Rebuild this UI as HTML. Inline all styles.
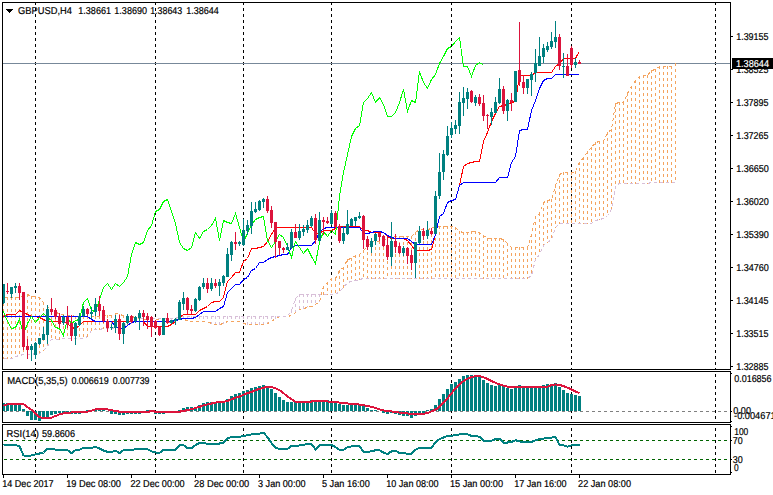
<!DOCTYPE html>
<html><head><meta charset="utf-8"><title>GBPUSD,H4</title>
<style>
html,body{margin:0;padding:0;background:#fff;}
body{width:773px;height:495px;overflow:hidden;}
svg{display:block;font-family:"Liberation Sans",sans-serif;font-size:10px;}
</style></head><body>
<svg width="773" height="495" viewBox="0 0 773 495" shape-rendering="crispEdges" text-rendering="geometricPrecision">
<rect x="0" y="0" width="773" height="495" fill="#fff"/>
<line x1="35.5" y1="2" x2="35.5" y2="474" stroke="#000" stroke-width="1" stroke-dasharray="3 3"/>
<line x1="155.5" y1="2" x2="155.5" y2="474" stroke="#000" stroke-width="1" stroke-dasharray="3 3"/>
<line x1="243.5" y1="2" x2="243.5" y2="474" stroke="#000" stroke-width="1" stroke-dasharray="3 3"/>
<line x1="331.5" y1="2" x2="331.5" y2="474" stroke="#000" stroke-width="1" stroke-dasharray="3 3"/>
<line x1="451.5" y1="2" x2="451.5" y2="474" stroke="#000" stroke-width="1" stroke-dasharray="3 3"/>
<line x1="571.5" y1="2" x2="571.5" y2="474" stroke="#000" stroke-width="1" stroke-dasharray="3 3"/>
<line x1="715.5" y1="2" x2="715.5" y2="474" stroke="#000" stroke-width="1" stroke-dasharray="3 3"/>
<rect x="3" y="370" width="727" height="1" fill="#fff"/>
<rect x="3" y="423" width="727" height="1" fill="#fff"/>
<rect x="3" y="63" width="727" height="1" fill="#778899"/>
<rect x="3" y="297" width="1" height="3" fill="#F4A460"/>
<rect x="3" y="303" width="1" height="3" fill="#F4A460"/>
<rect x="3" y="309" width="1" height="3" fill="#F4A460"/>
<rect x="3" y="315" width="1" height="3" fill="#F4A460"/>
<rect x="3" y="321" width="1" height="3" fill="#F4A460"/>
<rect x="3" y="327" width="1" height="3" fill="#F4A460"/>
<rect x="3" y="333" width="1" height="3" fill="#F4A460"/>
<rect x="3" y="339" width="1" height="3" fill="#F4A460"/>
<rect x="3" y="345" width="1" height="3" fill="#F4A460"/>
<rect x="3" y="351" width="1" height="3" fill="#F4A460"/>
<rect x="3" y="357" width="1" height="2" fill="#F4A460"/>
<rect x="7" y="297" width="1" height="3" fill="#F4A460"/>
<rect x="7" y="303" width="1" height="3" fill="#F4A460"/>
<rect x="7" y="309" width="1" height="3" fill="#F4A460"/>
<rect x="7" y="315" width="1" height="3" fill="#F4A460"/>
<rect x="7" y="321" width="1" height="3" fill="#F4A460"/>
<rect x="7" y="327" width="1" height="3" fill="#F4A460"/>
<rect x="7" y="333" width="1" height="3" fill="#F4A460"/>
<rect x="7" y="339" width="1" height="3" fill="#F4A460"/>
<rect x="7" y="345" width="1" height="3" fill="#F4A460"/>
<rect x="7" y="351" width="1" height="3" fill="#F4A460"/>
<rect x="7" y="357" width="1" height="2" fill="#F4A460"/>
<rect x="11" y="297" width="1" height="3" fill="#F4A460"/>
<rect x="11" y="303" width="1" height="3" fill="#F4A460"/>
<rect x="11" y="309" width="1" height="3" fill="#F4A460"/>
<rect x="11" y="315" width="1" height="3" fill="#F4A460"/>
<rect x="11" y="321" width="1" height="3" fill="#F4A460"/>
<rect x="11" y="327" width="1" height="3" fill="#F4A460"/>
<rect x="11" y="333" width="1" height="3" fill="#F4A460"/>
<rect x="11" y="339" width="1" height="3" fill="#F4A460"/>
<rect x="11" y="345" width="1" height="3" fill="#F4A460"/>
<rect x="11" y="351" width="1" height="3" fill="#F4A460"/>
<rect x="11" y="357" width="1" height="2" fill="#F4A460"/>
<rect x="15" y="297" width="1" height="3" fill="#F4A460"/>
<rect x="15" y="303" width="1" height="3" fill="#F4A460"/>
<rect x="15" y="309" width="1" height="3" fill="#F4A460"/>
<rect x="15" y="315" width="1" height="3" fill="#F4A460"/>
<rect x="15" y="321" width="1" height="3" fill="#F4A460"/>
<rect x="15" y="327" width="1" height="3" fill="#F4A460"/>
<rect x="15" y="333" width="1" height="3" fill="#F4A460"/>
<rect x="15" y="339" width="1" height="3" fill="#F4A460"/>
<rect x="15" y="345" width="1" height="3" fill="#F4A460"/>
<rect x="15" y="351" width="1" height="3" fill="#F4A460"/>
<rect x="19" y="297" width="1" height="3" fill="#F4A460"/>
<rect x="19" y="303" width="1" height="3" fill="#F4A460"/>
<rect x="19" y="309" width="1" height="3" fill="#F4A460"/>
<rect x="19" y="315" width="1" height="3" fill="#F4A460"/>
<rect x="19" y="321" width="1" height="3" fill="#F4A460"/>
<rect x="19" y="327" width="1" height="3" fill="#F4A460"/>
<rect x="19" y="333" width="1" height="3" fill="#F4A460"/>
<rect x="19" y="339" width="1" height="3" fill="#F4A460"/>
<rect x="19" y="345" width="1" height="3" fill="#F4A460"/>
<rect x="19" y="351" width="1" height="3" fill="#F4A460"/>
<rect x="23" y="295" width="1" height="3" fill="#F4A460"/>
<rect x="23" y="301" width="1" height="3" fill="#F4A460"/>
<rect x="23" y="307" width="1" height="3" fill="#F4A460"/>
<rect x="23" y="313" width="1" height="3" fill="#F4A460"/>
<rect x="23" y="319" width="1" height="3" fill="#F4A460"/>
<rect x="23" y="325" width="1" height="3" fill="#F4A460"/>
<rect x="23" y="331" width="1" height="3" fill="#F4A460"/>
<rect x="23" y="337" width="1" height="3" fill="#F4A460"/>
<rect x="23" y="343" width="1" height="3" fill="#F4A460"/>
<rect x="23" y="349" width="1" height="3" fill="#F4A460"/>
<rect x="27" y="294" width="1" height="3" fill="#F4A460"/>
<rect x="27" y="300" width="1" height="3" fill="#F4A460"/>
<rect x="27" y="306" width="1" height="3" fill="#F4A460"/>
<rect x="27" y="312" width="1" height="3" fill="#F4A460"/>
<rect x="27" y="318" width="1" height="3" fill="#F4A460"/>
<rect x="27" y="324" width="1" height="3" fill="#F4A460"/>
<rect x="27" y="330" width="1" height="3" fill="#F4A460"/>
<rect x="27" y="336" width="1" height="3" fill="#F4A460"/>
<rect x="27" y="342" width="1" height="3" fill="#F4A460"/>
<rect x="27" y="348" width="1" height="3" fill="#F4A460"/>
<rect x="27" y="354" width="1" height="1" fill="#F4A460"/>
<rect x="31" y="296" width="1" height="3" fill="#F4A460"/>
<rect x="31" y="302" width="1" height="3" fill="#F4A460"/>
<rect x="31" y="308" width="1" height="3" fill="#F4A460"/>
<rect x="31" y="314" width="1" height="3" fill="#F4A460"/>
<rect x="31" y="320" width="1" height="3" fill="#F4A460"/>
<rect x="31" y="326" width="1" height="3" fill="#F4A460"/>
<rect x="31" y="332" width="1" height="3" fill="#F4A460"/>
<rect x="31" y="338" width="1" height="3" fill="#F4A460"/>
<rect x="31" y="344" width="1" height="3" fill="#F4A460"/>
<rect x="31" y="350" width="1" height="3" fill="#F4A460"/>
<rect x="35" y="296" width="1" height="3" fill="#F4A460"/>
<rect x="35" y="302" width="1" height="3" fill="#F4A460"/>
<rect x="35" y="308" width="1" height="3" fill="#F4A460"/>
<rect x="35" y="314" width="1" height="3" fill="#F4A460"/>
<rect x="35" y="320" width="1" height="3" fill="#F4A460"/>
<rect x="35" y="326" width="1" height="3" fill="#F4A460"/>
<rect x="35" y="332" width="1" height="3" fill="#F4A460"/>
<rect x="35" y="338" width="1" height="3" fill="#F4A460"/>
<rect x="35" y="344" width="1" height="3" fill="#F4A460"/>
<rect x="35" y="350" width="1" height="3" fill="#F4A460"/>
<rect x="39" y="297" width="1" height="3" fill="#F4A460"/>
<rect x="39" y="303" width="1" height="3" fill="#F4A460"/>
<rect x="39" y="309" width="1" height="3" fill="#F4A460"/>
<rect x="39" y="315" width="1" height="3" fill="#F4A460"/>
<rect x="39" y="321" width="1" height="3" fill="#F4A460"/>
<rect x="39" y="327" width="1" height="3" fill="#F4A460"/>
<rect x="39" y="333" width="1" height="3" fill="#F4A460"/>
<rect x="39" y="339" width="1" height="3" fill="#F4A460"/>
<rect x="39" y="345" width="1" height="3" fill="#F4A460"/>
<rect x="39" y="351" width="1" height="3" fill="#F4A460"/>
<rect x="43" y="302" width="1" height="3" fill="#F4A460"/>
<rect x="43" y="308" width="1" height="3" fill="#F4A460"/>
<rect x="43" y="314" width="1" height="3" fill="#F4A460"/>
<rect x="43" y="320" width="1" height="3" fill="#F4A460"/>
<rect x="43" y="326" width="1" height="3" fill="#F4A460"/>
<rect x="43" y="332" width="1" height="3" fill="#F4A460"/>
<rect x="43" y="338" width="1" height="3" fill="#F4A460"/>
<rect x="43" y="344" width="1" height="3" fill="#F4A460"/>
<rect x="43" y="350" width="1" height="1" fill="#F4A460"/>
<rect x="47" y="306" width="1" height="3" fill="#F4A460"/>
<rect x="47" y="312" width="1" height="3" fill="#F4A460"/>
<rect x="47" y="318" width="1" height="3" fill="#F4A460"/>
<rect x="47" y="324" width="1" height="3" fill="#F4A460"/>
<rect x="47" y="330" width="1" height="3" fill="#F4A460"/>
<rect x="47" y="336" width="1" height="3" fill="#F4A460"/>
<rect x="47" y="342" width="1" height="3" fill="#F4A460"/>
<rect x="51" y="311" width="1" height="3" fill="#F4A460"/>
<rect x="51" y="317" width="1" height="3" fill="#F4A460"/>
<rect x="51" y="323" width="1" height="3" fill="#F4A460"/>
<rect x="51" y="329" width="1" height="3" fill="#F4A460"/>
<rect x="51" y="335" width="1" height="3" fill="#F4A460"/>
<rect x="55" y="312" width="1" height="3" fill="#F4A460"/>
<rect x="55" y="318" width="1" height="3" fill="#F4A460"/>
<rect x="55" y="324" width="1" height="3" fill="#F4A460"/>
<rect x="55" y="330" width="1" height="3" fill="#F4A460"/>
<rect x="55" y="336" width="1" height="3" fill="#F4A460"/>
<rect x="59" y="313" width="1" height="3" fill="#F4A460"/>
<rect x="59" y="319" width="1" height="3" fill="#F4A460"/>
<rect x="59" y="325" width="1" height="3" fill="#F4A460"/>
<rect x="59" y="331" width="1" height="3" fill="#F4A460"/>
<rect x="59" y="337" width="1" height="3" fill="#F4A460"/>
<rect x="63" y="314" width="1" height="3" fill="#F4A460"/>
<rect x="63" y="320" width="1" height="3" fill="#F4A460"/>
<rect x="63" y="326" width="1" height="3" fill="#F4A460"/>
<rect x="63" y="332" width="1" height="3" fill="#F4A460"/>
<rect x="63" y="338" width="1" height="1" fill="#F4A460"/>
<rect x="67" y="315" width="1" height="3" fill="#F4A460"/>
<rect x="67" y="321" width="1" height="3" fill="#F4A460"/>
<rect x="67" y="327" width="1" height="3" fill="#F4A460"/>
<rect x="67" y="333" width="1" height="3" fill="#F4A460"/>
<rect x="71" y="315" width="1" height="3" fill="#F4A460"/>
<rect x="71" y="321" width="1" height="3" fill="#F4A460"/>
<rect x="71" y="327" width="1" height="3" fill="#F4A460"/>
<rect x="71" y="333" width="1" height="3" fill="#F4A460"/>
<rect x="75" y="316" width="1" height="3" fill="#F4A460"/>
<rect x="75" y="322" width="1" height="3" fill="#F4A460"/>
<rect x="75" y="328" width="1" height="3" fill="#F4A460"/>
<rect x="75" y="334" width="1" height="3" fill="#F4A460"/>
<rect x="79" y="316" width="1" height="3" fill="#F4A460"/>
<rect x="79" y="322" width="1" height="3" fill="#F4A460"/>
<rect x="79" y="328" width="1" height="3" fill="#F4A460"/>
<rect x="79" y="334" width="1" height="3" fill="#F4A460"/>
<rect x="83" y="316" width="1" height="3" fill="#F4A460"/>
<rect x="83" y="322" width="1" height="3" fill="#F4A460"/>
<rect x="83" y="328" width="1" height="3" fill="#F4A460"/>
<rect x="83" y="334" width="1" height="3" fill="#F4A460"/>
<rect x="87" y="316" width="1" height="3" fill="#F4A460"/>
<rect x="87" y="322" width="1" height="3" fill="#F4A460"/>
<rect x="87" y="328" width="1" height="3" fill="#F4A460"/>
<rect x="87" y="334" width="1" height="3" fill="#F4A460"/>
<rect x="91" y="316" width="1" height="3" fill="#F4A460"/>
<rect x="91" y="322" width="1" height="3" fill="#F4A460"/>
<rect x="91" y="328" width="1" height="3" fill="#F4A460"/>
<rect x="95" y="316" width="1" height="3" fill="#F4A460"/>
<rect x="95" y="322" width="1" height="3" fill="#F4A460"/>
<rect x="95" y="328" width="1" height="2" fill="#F4A460"/>
<rect x="99" y="316" width="1" height="3" fill="#F4A460"/>
<rect x="99" y="322" width="1" height="3" fill="#F4A460"/>
<rect x="99" y="328" width="1" height="2" fill="#F4A460"/>
<rect x="103" y="315" width="1" height="3" fill="#F4A460"/>
<rect x="103" y="321" width="1" height="3" fill="#F4A460"/>
<rect x="103" y="327" width="1" height="2" fill="#F4A460"/>
<rect x="107" y="315" width="1" height="3" fill="#F4A460"/>
<rect x="107" y="321" width="1" height="3" fill="#F4A460"/>
<rect x="107" y="327" width="1" height="2" fill="#F4A460"/>
<rect x="111" y="315" width="1" height="3" fill="#F4A460"/>
<rect x="111" y="321" width="1" height="3" fill="#F4A460"/>
<rect x="111" y="327" width="1" height="2" fill="#F4A460"/>
<rect x="115" y="313" width="1" height="3" fill="#F4A460"/>
<rect x="115" y="319" width="1" height="3" fill="#F4A460"/>
<rect x="115" y="325" width="1" height="3" fill="#F4A460"/>
<rect x="119" y="314" width="1" height="3" fill="#F4A460"/>
<rect x="119" y="320" width="1" height="3" fill="#F4A460"/>
<rect x="119" y="326" width="1" height="1" fill="#F4A460"/>
<rect x="123" y="315" width="1" height="3" fill="#F4A460"/>
<rect x="123" y="321" width="1" height="3" fill="#F4A460"/>
<rect x="127" y="316" width="1" height="3" fill="#F4A460"/>
<rect x="127" y="322" width="1" height="3" fill="#F4A460"/>
<rect x="131" y="316" width="1" height="3" fill="#F4A460"/>
<rect x="131" y="322" width="1" height="2" fill="#F4A460"/>
<rect x="135" y="317" width="1" height="3" fill="#F4A460"/>
<rect x="167" y="318" width="1" height="3" fill="#D8BFD8"/>
<rect x="171" y="318" width="1" height="3" fill="#D8BFD8"/>
<rect x="175" y="318" width="1" height="3" fill="#D8BFD8"/>
<rect x="179" y="316" width="1" height="3" fill="#D8BFD8"/>
<rect x="183" y="316" width="1" height="3" fill="#D8BFD8"/>
<rect x="187" y="316" width="1" height="3" fill="#D8BFD8"/>
<rect x="191" y="316" width="1" height="3" fill="#D8BFD8"/>
<rect x="195" y="316" width="1" height="3" fill="#D8BFD8"/>
<rect x="199" y="316" width="1" height="3" fill="#D8BFD8"/>
<rect x="203" y="316" width="1" height="3" fill="#D8BFD8"/>
<rect x="207" y="316" width="1" height="3" fill="#D8BFD8"/>
<rect x="211" y="316" width="1" height="3" fill="#D8BFD8"/>
<rect x="211" y="322" width="1" height="2" fill="#D8BFD8"/>
<rect x="215" y="316" width="1" height="3" fill="#D8BFD8"/>
<rect x="215" y="322" width="1" height="3" fill="#D8BFD8"/>
<rect x="219" y="316" width="1" height="3" fill="#D8BFD8"/>
<rect x="219" y="322" width="1" height="3" fill="#D8BFD8"/>
<rect x="223" y="316" width="1" height="3" fill="#D8BFD8"/>
<rect x="223" y="322" width="1" height="2" fill="#D8BFD8"/>
<rect x="227" y="316" width="1" height="3" fill="#D8BFD8"/>
<rect x="231" y="316" width="1" height="3" fill="#D8BFD8"/>
<rect x="235" y="316" width="1" height="3" fill="#D8BFD8"/>
<rect x="239" y="316" width="1" height="3" fill="#D8BFD8"/>
<rect x="243" y="316" width="1" height="3" fill="#D8BFD8"/>
<rect x="243" y="322" width="1" height="2" fill="#D8BFD8"/>
<rect x="247" y="316" width="1" height="3" fill="#D8BFD8"/>
<rect x="247" y="322" width="1" height="3" fill="#D8BFD8"/>
<rect x="251" y="316" width="1" height="3" fill="#D8BFD8"/>
<rect x="251" y="322" width="1" height="3" fill="#D8BFD8"/>
<rect x="255" y="316" width="1" height="3" fill="#D8BFD8"/>
<rect x="255" y="322" width="1" height="3" fill="#D8BFD8"/>
<rect x="259" y="316" width="1" height="3" fill="#D8BFD8"/>
<rect x="259" y="322" width="1" height="3" fill="#D8BFD8"/>
<rect x="263" y="316" width="1" height="3" fill="#D8BFD8"/>
<rect x="263" y="322" width="1" height="3" fill="#D8BFD8"/>
<rect x="267" y="316" width="1" height="3" fill="#D8BFD8"/>
<rect x="267" y="322" width="1" height="2" fill="#D8BFD8"/>
<rect x="271" y="316" width="1" height="3" fill="#D8BFD8"/>
<rect x="275" y="316" width="1" height="3" fill="#D8BFD8"/>
<rect x="291" y="310" width="1" height="3" fill="#D8BFD8"/>
<rect x="295" y="298" width="1" height="3" fill="#D8BFD8"/>
<rect x="295" y="304" width="1" height="3" fill="#D8BFD8"/>
<rect x="295" y="310" width="1" height="3" fill="#D8BFD8"/>
<rect x="299" y="294" width="1" height="3" fill="#D8BFD8"/>
<rect x="299" y="300" width="1" height="3" fill="#D8BFD8"/>
<rect x="299" y="306" width="1" height="3" fill="#D8BFD8"/>
<rect x="303" y="294" width="1" height="3" fill="#D8BFD8"/>
<rect x="303" y="300" width="1" height="3" fill="#D8BFD8"/>
<rect x="303" y="306" width="1" height="3" fill="#D8BFD8"/>
<rect x="307" y="294" width="1" height="3" fill="#D8BFD8"/>
<rect x="307" y="300" width="1" height="3" fill="#D8BFD8"/>
<rect x="307" y="306" width="1" height="1" fill="#D8BFD8"/>
<rect x="311" y="294" width="1" height="3" fill="#D8BFD8"/>
<rect x="311" y="300" width="1" height="3" fill="#D8BFD8"/>
<rect x="311" y="306" width="1" height="1" fill="#D8BFD8"/>
<rect x="315" y="294" width="1" height="3" fill="#D8BFD8"/>
<rect x="315" y="300" width="1" height="3" fill="#D8BFD8"/>
<rect x="319" y="294" width="1" height="3" fill="#D8BFD8"/>
<rect x="319" y="300" width="1" height="2" fill="#D8BFD8"/>
<rect x="323" y="286" width="1" height="3" fill="#F4A460"/>
<rect x="323" y="292" width="1" height="3" fill="#F4A460"/>
<rect x="327" y="282" width="1" height="3" fill="#F4A460"/>
<rect x="327" y="288" width="1" height="3" fill="#F4A460"/>
<rect x="327" y="294" width="1" height="1" fill="#F4A460"/>
<rect x="331" y="278" width="1" height="3" fill="#F4A460"/>
<rect x="331" y="284" width="1" height="3" fill="#F4A460"/>
<rect x="331" y="290" width="1" height="3" fill="#F4A460"/>
<rect x="335" y="278" width="1" height="3" fill="#F4A460"/>
<rect x="335" y="284" width="1" height="3" fill="#F4A460"/>
<rect x="335" y="290" width="1" height="3" fill="#F4A460"/>
<rect x="339" y="270" width="1" height="3" fill="#F4A460"/>
<rect x="339" y="276" width="1" height="3" fill="#F4A460"/>
<rect x="339" y="282" width="1" height="3" fill="#F4A460"/>
<rect x="339" y="288" width="1" height="3" fill="#F4A460"/>
<rect x="343" y="267" width="1" height="3" fill="#F4A460"/>
<rect x="343" y="273" width="1" height="3" fill="#F4A460"/>
<rect x="343" y="279" width="1" height="3" fill="#F4A460"/>
<rect x="343" y="285" width="1" height="3" fill="#F4A460"/>
<rect x="347" y="259" width="1" height="3" fill="#F4A460"/>
<rect x="347" y="265" width="1" height="3" fill="#F4A460"/>
<rect x="347" y="271" width="1" height="3" fill="#F4A460"/>
<rect x="347" y="277" width="1" height="3" fill="#F4A460"/>
<rect x="351" y="258" width="1" height="3" fill="#F4A460"/>
<rect x="351" y="264" width="1" height="3" fill="#F4A460"/>
<rect x="351" y="270" width="1" height="3" fill="#F4A460"/>
<rect x="351" y="276" width="1" height="3" fill="#F4A460"/>
<rect x="355" y="255" width="1" height="3" fill="#F4A460"/>
<rect x="355" y="261" width="1" height="3" fill="#F4A460"/>
<rect x="355" y="267" width="1" height="3" fill="#F4A460"/>
<rect x="355" y="273" width="1" height="3" fill="#F4A460"/>
<rect x="355" y="279" width="1" height="2" fill="#F4A460"/>
<rect x="359" y="254" width="1" height="3" fill="#F4A460"/>
<rect x="359" y="260" width="1" height="3" fill="#F4A460"/>
<rect x="359" y="266" width="1" height="3" fill="#F4A460"/>
<rect x="359" y="272" width="1" height="3" fill="#F4A460"/>
<rect x="359" y="278" width="1" height="2" fill="#F4A460"/>
<rect x="363" y="250" width="1" height="3" fill="#F4A460"/>
<rect x="363" y="256" width="1" height="3" fill="#F4A460"/>
<rect x="363" y="262" width="1" height="3" fill="#F4A460"/>
<rect x="363" y="268" width="1" height="3" fill="#F4A460"/>
<rect x="363" y="274" width="1" height="3" fill="#F4A460"/>
<rect x="367" y="246" width="1" height="3" fill="#F4A460"/>
<rect x="367" y="252" width="1" height="3" fill="#F4A460"/>
<rect x="367" y="258" width="1" height="3" fill="#F4A460"/>
<rect x="367" y="264" width="1" height="3" fill="#F4A460"/>
<rect x="367" y="270" width="1" height="3" fill="#F4A460"/>
<rect x="367" y="276" width="1" height="3" fill="#F4A460"/>
<rect x="371" y="241" width="1" height="3" fill="#F4A460"/>
<rect x="371" y="247" width="1" height="3" fill="#F4A460"/>
<rect x="371" y="253" width="1" height="3" fill="#F4A460"/>
<rect x="371" y="259" width="1" height="3" fill="#F4A460"/>
<rect x="371" y="265" width="1" height="3" fill="#F4A460"/>
<rect x="371" y="271" width="1" height="3" fill="#F4A460"/>
<rect x="371" y="277" width="1" height="2" fill="#F4A460"/>
<rect x="375" y="241" width="1" height="3" fill="#F4A460"/>
<rect x="375" y="247" width="1" height="3" fill="#F4A460"/>
<rect x="375" y="253" width="1" height="3" fill="#F4A460"/>
<rect x="375" y="259" width="1" height="3" fill="#F4A460"/>
<rect x="375" y="265" width="1" height="3" fill="#F4A460"/>
<rect x="375" y="271" width="1" height="3" fill="#F4A460"/>
<rect x="375" y="277" width="1" height="2" fill="#F4A460"/>
<rect x="379" y="241" width="1" height="3" fill="#F4A460"/>
<rect x="379" y="247" width="1" height="3" fill="#F4A460"/>
<rect x="379" y="253" width="1" height="3" fill="#F4A460"/>
<rect x="379" y="259" width="1" height="3" fill="#F4A460"/>
<rect x="379" y="265" width="1" height="3" fill="#F4A460"/>
<rect x="379" y="271" width="1" height="3" fill="#F4A460"/>
<rect x="379" y="277" width="1" height="2" fill="#F4A460"/>
<rect x="383" y="241" width="1" height="3" fill="#F4A460"/>
<rect x="383" y="247" width="1" height="3" fill="#F4A460"/>
<rect x="383" y="253" width="1" height="3" fill="#F4A460"/>
<rect x="383" y="259" width="1" height="3" fill="#F4A460"/>
<rect x="383" y="265" width="1" height="3" fill="#F4A460"/>
<rect x="383" y="271" width="1" height="3" fill="#F4A460"/>
<rect x="383" y="277" width="1" height="2" fill="#F4A460"/>
<rect x="387" y="237" width="1" height="3" fill="#F4A460"/>
<rect x="387" y="243" width="1" height="3" fill="#F4A460"/>
<rect x="387" y="249" width="1" height="3" fill="#F4A460"/>
<rect x="387" y="255" width="1" height="3" fill="#F4A460"/>
<rect x="387" y="261" width="1" height="3" fill="#F4A460"/>
<rect x="387" y="267" width="1" height="3" fill="#F4A460"/>
<rect x="387" y="273" width="1" height="3" fill="#F4A460"/>
<rect x="391" y="236" width="1" height="3" fill="#F4A460"/>
<rect x="391" y="242" width="1" height="3" fill="#F4A460"/>
<rect x="391" y="248" width="1" height="3" fill="#F4A460"/>
<rect x="391" y="254" width="1" height="3" fill="#F4A460"/>
<rect x="391" y="260" width="1" height="3" fill="#F4A460"/>
<rect x="391" y="266" width="1" height="3" fill="#F4A460"/>
<rect x="391" y="272" width="1" height="3" fill="#F4A460"/>
<rect x="391" y="278" width="1" height="1" fill="#F4A460"/>
<rect x="395" y="236" width="1" height="3" fill="#F4A460"/>
<rect x="395" y="242" width="1" height="3" fill="#F4A460"/>
<rect x="395" y="248" width="1" height="3" fill="#F4A460"/>
<rect x="395" y="254" width="1" height="3" fill="#F4A460"/>
<rect x="395" y="260" width="1" height="3" fill="#F4A460"/>
<rect x="395" y="266" width="1" height="3" fill="#F4A460"/>
<rect x="395" y="272" width="1" height="3" fill="#F4A460"/>
<rect x="395" y="278" width="1" height="1" fill="#F4A460"/>
<rect x="399" y="236" width="1" height="3" fill="#F4A460"/>
<rect x="399" y="242" width="1" height="3" fill="#F4A460"/>
<rect x="399" y="248" width="1" height="3" fill="#F4A460"/>
<rect x="399" y="254" width="1" height="3" fill="#F4A460"/>
<rect x="399" y="260" width="1" height="3" fill="#F4A460"/>
<rect x="399" y="266" width="1" height="3" fill="#F4A460"/>
<rect x="399" y="272" width="1" height="3" fill="#F4A460"/>
<rect x="399" y="278" width="1" height="1" fill="#F4A460"/>
<rect x="403" y="236" width="1" height="3" fill="#F4A460"/>
<rect x="403" y="242" width="1" height="3" fill="#F4A460"/>
<rect x="403" y="248" width="1" height="3" fill="#F4A460"/>
<rect x="403" y="254" width="1" height="3" fill="#F4A460"/>
<rect x="403" y="260" width="1" height="3" fill="#F4A460"/>
<rect x="403" y="266" width="1" height="3" fill="#F4A460"/>
<rect x="403" y="272" width="1" height="3" fill="#F4A460"/>
<rect x="403" y="278" width="1" height="1" fill="#F4A460"/>
<rect x="407" y="236" width="1" height="3" fill="#F4A460"/>
<rect x="407" y="242" width="1" height="3" fill="#F4A460"/>
<rect x="407" y="248" width="1" height="3" fill="#F4A460"/>
<rect x="407" y="254" width="1" height="3" fill="#F4A460"/>
<rect x="407" y="260" width="1" height="3" fill="#F4A460"/>
<rect x="407" y="266" width="1" height="3" fill="#F4A460"/>
<rect x="407" y="272" width="1" height="3" fill="#F4A460"/>
<rect x="407" y="278" width="1" height="1" fill="#F4A460"/>
<rect x="411" y="236" width="1" height="3" fill="#F4A460"/>
<rect x="411" y="242" width="1" height="3" fill="#F4A460"/>
<rect x="411" y="248" width="1" height="3" fill="#F4A460"/>
<rect x="411" y="254" width="1" height="3" fill="#F4A460"/>
<rect x="411" y="260" width="1" height="3" fill="#F4A460"/>
<rect x="411" y="266" width="1" height="3" fill="#F4A460"/>
<rect x="411" y="272" width="1" height="3" fill="#F4A460"/>
<rect x="411" y="278" width="1" height="1" fill="#F4A460"/>
<rect x="415" y="232" width="1" height="3" fill="#F4A460"/>
<rect x="415" y="238" width="1" height="3" fill="#F4A460"/>
<rect x="415" y="244" width="1" height="3" fill="#F4A460"/>
<rect x="415" y="250" width="1" height="3" fill="#F4A460"/>
<rect x="415" y="256" width="1" height="3" fill="#F4A460"/>
<rect x="415" y="262" width="1" height="3" fill="#F4A460"/>
<rect x="415" y="268" width="1" height="3" fill="#F4A460"/>
<rect x="415" y="274" width="1" height="3" fill="#F4A460"/>
<rect x="419" y="229" width="1" height="3" fill="#F4A460"/>
<rect x="419" y="235" width="1" height="3" fill="#F4A460"/>
<rect x="419" y="241" width="1" height="3" fill="#F4A460"/>
<rect x="419" y="247" width="1" height="3" fill="#F4A460"/>
<rect x="419" y="253" width="1" height="3" fill="#F4A460"/>
<rect x="419" y="259" width="1" height="3" fill="#F4A460"/>
<rect x="419" y="265" width="1" height="3" fill="#F4A460"/>
<rect x="419" y="271" width="1" height="3" fill="#F4A460"/>
<rect x="419" y="277" width="1" height="2" fill="#F4A460"/>
<rect x="423" y="229" width="1" height="3" fill="#F4A460"/>
<rect x="423" y="235" width="1" height="3" fill="#F4A460"/>
<rect x="423" y="241" width="1" height="3" fill="#F4A460"/>
<rect x="423" y="247" width="1" height="3" fill="#F4A460"/>
<rect x="423" y="253" width="1" height="3" fill="#F4A460"/>
<rect x="423" y="259" width="1" height="3" fill="#F4A460"/>
<rect x="423" y="265" width="1" height="3" fill="#F4A460"/>
<rect x="423" y="271" width="1" height="3" fill="#F4A460"/>
<rect x="423" y="277" width="1" height="2" fill="#F4A460"/>
<rect x="427" y="229" width="1" height="3" fill="#F4A460"/>
<rect x="427" y="235" width="1" height="3" fill="#F4A460"/>
<rect x="427" y="241" width="1" height="3" fill="#F4A460"/>
<rect x="427" y="247" width="1" height="3" fill="#F4A460"/>
<rect x="427" y="253" width="1" height="3" fill="#F4A460"/>
<rect x="427" y="259" width="1" height="3" fill="#F4A460"/>
<rect x="427" y="265" width="1" height="3" fill="#F4A460"/>
<rect x="427" y="271" width="1" height="3" fill="#F4A460"/>
<rect x="427" y="277" width="1" height="2" fill="#F4A460"/>
<rect x="431" y="228" width="1" height="3" fill="#F4A460"/>
<rect x="431" y="234" width="1" height="3" fill="#F4A460"/>
<rect x="431" y="240" width="1" height="3" fill="#F4A460"/>
<rect x="431" y="246" width="1" height="3" fill="#F4A460"/>
<rect x="431" y="252" width="1" height="3" fill="#F4A460"/>
<rect x="431" y="258" width="1" height="3" fill="#F4A460"/>
<rect x="431" y="264" width="1" height="3" fill="#F4A460"/>
<rect x="431" y="270" width="1" height="3" fill="#F4A460"/>
<rect x="431" y="276" width="1" height="3" fill="#F4A460"/>
<rect x="435" y="226" width="1" height="3" fill="#F4A460"/>
<rect x="435" y="232" width="1" height="3" fill="#F4A460"/>
<rect x="435" y="238" width="1" height="3" fill="#F4A460"/>
<rect x="435" y="244" width="1" height="3" fill="#F4A460"/>
<rect x="435" y="250" width="1" height="3" fill="#F4A460"/>
<rect x="435" y="256" width="1" height="3" fill="#F4A460"/>
<rect x="435" y="262" width="1" height="3" fill="#F4A460"/>
<rect x="435" y="268" width="1" height="3" fill="#F4A460"/>
<rect x="435" y="274" width="1" height="3" fill="#F4A460"/>
<rect x="439" y="226" width="1" height="3" fill="#F4A460"/>
<rect x="439" y="232" width="1" height="3" fill="#F4A460"/>
<rect x="439" y="238" width="1" height="3" fill="#F4A460"/>
<rect x="439" y="244" width="1" height="3" fill="#F4A460"/>
<rect x="439" y="250" width="1" height="3" fill="#F4A460"/>
<rect x="439" y="256" width="1" height="3" fill="#F4A460"/>
<rect x="439" y="262" width="1" height="3" fill="#F4A460"/>
<rect x="439" y="268" width="1" height="3" fill="#F4A460"/>
<rect x="439" y="274" width="1" height="3" fill="#F4A460"/>
<rect x="443" y="226" width="1" height="3" fill="#F4A460"/>
<rect x="443" y="232" width="1" height="3" fill="#F4A460"/>
<rect x="443" y="238" width="1" height="3" fill="#F4A460"/>
<rect x="443" y="244" width="1" height="3" fill="#F4A460"/>
<rect x="443" y="250" width="1" height="3" fill="#F4A460"/>
<rect x="443" y="256" width="1" height="3" fill="#F4A460"/>
<rect x="443" y="262" width="1" height="3" fill="#F4A460"/>
<rect x="443" y="268" width="1" height="3" fill="#F4A460"/>
<rect x="443" y="274" width="1" height="3" fill="#F4A460"/>
<rect x="447" y="226" width="1" height="3" fill="#F4A460"/>
<rect x="447" y="232" width="1" height="3" fill="#F4A460"/>
<rect x="447" y="238" width="1" height="3" fill="#F4A460"/>
<rect x="447" y="244" width="1" height="3" fill="#F4A460"/>
<rect x="447" y="250" width="1" height="3" fill="#F4A460"/>
<rect x="447" y="256" width="1" height="3" fill="#F4A460"/>
<rect x="447" y="262" width="1" height="3" fill="#F4A460"/>
<rect x="447" y="268" width="1" height="3" fill="#F4A460"/>
<rect x="447" y="274" width="1" height="3" fill="#F4A460"/>
<rect x="451" y="226" width="1" height="3" fill="#F4A460"/>
<rect x="451" y="232" width="1" height="3" fill="#F4A460"/>
<rect x="451" y="238" width="1" height="3" fill="#F4A460"/>
<rect x="451" y="244" width="1" height="3" fill="#F4A460"/>
<rect x="451" y="250" width="1" height="3" fill="#F4A460"/>
<rect x="451" y="256" width="1" height="3" fill="#F4A460"/>
<rect x="451" y="262" width="1" height="3" fill="#F4A460"/>
<rect x="451" y="268" width="1" height="3" fill="#F4A460"/>
<rect x="451" y="274" width="1" height="3" fill="#F4A460"/>
<rect x="455" y="227" width="1" height="3" fill="#F4A460"/>
<rect x="455" y="233" width="1" height="3" fill="#F4A460"/>
<rect x="455" y="239" width="1" height="3" fill="#F4A460"/>
<rect x="455" y="245" width="1" height="3" fill="#F4A460"/>
<rect x="455" y="251" width="1" height="3" fill="#F4A460"/>
<rect x="455" y="257" width="1" height="3" fill="#F4A460"/>
<rect x="455" y="263" width="1" height="3" fill="#F4A460"/>
<rect x="455" y="269" width="1" height="3" fill="#F4A460"/>
<rect x="455" y="275" width="1" height="3" fill="#F4A460"/>
<rect x="459" y="231" width="1" height="3" fill="#F4A460"/>
<rect x="459" y="237" width="1" height="3" fill="#F4A460"/>
<rect x="459" y="243" width="1" height="3" fill="#F4A460"/>
<rect x="459" y="249" width="1" height="3" fill="#F4A460"/>
<rect x="459" y="255" width="1" height="3" fill="#F4A460"/>
<rect x="459" y="261" width="1" height="3" fill="#F4A460"/>
<rect x="459" y="267" width="1" height="3" fill="#F4A460"/>
<rect x="459" y="273" width="1" height="3" fill="#F4A460"/>
<rect x="463" y="232" width="1" height="3" fill="#F4A460"/>
<rect x="463" y="238" width="1" height="3" fill="#F4A460"/>
<rect x="463" y="244" width="1" height="3" fill="#F4A460"/>
<rect x="463" y="250" width="1" height="3" fill="#F4A460"/>
<rect x="463" y="256" width="1" height="3" fill="#F4A460"/>
<rect x="463" y="262" width="1" height="3" fill="#F4A460"/>
<rect x="463" y="268" width="1" height="3" fill="#F4A460"/>
<rect x="463" y="274" width="1" height="3" fill="#F4A460"/>
<rect x="467" y="232" width="1" height="3" fill="#F4A460"/>
<rect x="467" y="238" width="1" height="3" fill="#F4A460"/>
<rect x="467" y="244" width="1" height="3" fill="#F4A460"/>
<rect x="467" y="250" width="1" height="3" fill="#F4A460"/>
<rect x="467" y="256" width="1" height="3" fill="#F4A460"/>
<rect x="467" y="262" width="1" height="3" fill="#F4A460"/>
<rect x="467" y="268" width="1" height="3" fill="#F4A460"/>
<rect x="467" y="274" width="1" height="3" fill="#F4A460"/>
<rect x="471" y="231" width="1" height="3" fill="#F4A460"/>
<rect x="471" y="237" width="1" height="3" fill="#F4A460"/>
<rect x="471" y="243" width="1" height="3" fill="#F4A460"/>
<rect x="471" y="249" width="1" height="3" fill="#F4A460"/>
<rect x="471" y="255" width="1" height="3" fill="#F4A460"/>
<rect x="471" y="261" width="1" height="3" fill="#F4A460"/>
<rect x="471" y="267" width="1" height="3" fill="#F4A460"/>
<rect x="471" y="273" width="1" height="3" fill="#F4A460"/>
<rect x="475" y="231" width="1" height="3" fill="#F4A460"/>
<rect x="475" y="237" width="1" height="3" fill="#F4A460"/>
<rect x="475" y="243" width="1" height="3" fill="#F4A460"/>
<rect x="475" y="249" width="1" height="3" fill="#F4A460"/>
<rect x="475" y="255" width="1" height="3" fill="#F4A460"/>
<rect x="475" y="261" width="1" height="3" fill="#F4A460"/>
<rect x="475" y="267" width="1" height="3" fill="#F4A460"/>
<rect x="475" y="273" width="1" height="3" fill="#F4A460"/>
<rect x="479" y="232" width="1" height="3" fill="#F4A460"/>
<rect x="479" y="238" width="1" height="3" fill="#F4A460"/>
<rect x="479" y="244" width="1" height="3" fill="#F4A460"/>
<rect x="479" y="250" width="1" height="3" fill="#F4A460"/>
<rect x="479" y="256" width="1" height="3" fill="#F4A460"/>
<rect x="479" y="262" width="1" height="3" fill="#F4A460"/>
<rect x="479" y="268" width="1" height="3" fill="#F4A460"/>
<rect x="479" y="274" width="1" height="3" fill="#F4A460"/>
<rect x="483" y="235" width="1" height="3" fill="#F4A460"/>
<rect x="483" y="241" width="1" height="3" fill="#F4A460"/>
<rect x="483" y="247" width="1" height="3" fill="#F4A460"/>
<rect x="483" y="253" width="1" height="3" fill="#F4A460"/>
<rect x="483" y="259" width="1" height="3" fill="#F4A460"/>
<rect x="483" y="265" width="1" height="3" fill="#F4A460"/>
<rect x="483" y="271" width="1" height="3" fill="#F4A460"/>
<rect x="483" y="277" width="1" height="2" fill="#F4A460"/>
<rect x="487" y="238" width="1" height="3" fill="#F4A460"/>
<rect x="487" y="244" width="1" height="3" fill="#F4A460"/>
<rect x="487" y="250" width="1" height="3" fill="#F4A460"/>
<rect x="487" y="256" width="1" height="3" fill="#F4A460"/>
<rect x="487" y="262" width="1" height="3" fill="#F4A460"/>
<rect x="487" y="268" width="1" height="3" fill="#F4A460"/>
<rect x="487" y="274" width="1" height="3" fill="#F4A460"/>
<rect x="491" y="238" width="1" height="3" fill="#F4A460"/>
<rect x="491" y="244" width="1" height="3" fill="#F4A460"/>
<rect x="491" y="250" width="1" height="3" fill="#F4A460"/>
<rect x="491" y="256" width="1" height="3" fill="#F4A460"/>
<rect x="491" y="262" width="1" height="3" fill="#F4A460"/>
<rect x="491" y="268" width="1" height="3" fill="#F4A460"/>
<rect x="491" y="274" width="1" height="3" fill="#F4A460"/>
<rect x="495" y="238" width="1" height="3" fill="#F4A460"/>
<rect x="495" y="244" width="1" height="3" fill="#F4A460"/>
<rect x="495" y="250" width="1" height="3" fill="#F4A460"/>
<rect x="495" y="256" width="1" height="3" fill="#F4A460"/>
<rect x="495" y="262" width="1" height="3" fill="#F4A460"/>
<rect x="495" y="268" width="1" height="3" fill="#F4A460"/>
<rect x="495" y="274" width="1" height="3" fill="#F4A460"/>
<rect x="499" y="238" width="1" height="3" fill="#F4A460"/>
<rect x="499" y="244" width="1" height="3" fill="#F4A460"/>
<rect x="499" y="250" width="1" height="3" fill="#F4A460"/>
<rect x="499" y="256" width="1" height="3" fill="#F4A460"/>
<rect x="499" y="262" width="1" height="3" fill="#F4A460"/>
<rect x="499" y="268" width="1" height="3" fill="#F4A460"/>
<rect x="499" y="274" width="1" height="3" fill="#F4A460"/>
<rect x="503" y="239" width="1" height="3" fill="#F4A460"/>
<rect x="503" y="245" width="1" height="3" fill="#F4A460"/>
<rect x="503" y="251" width="1" height="3" fill="#F4A460"/>
<rect x="503" y="257" width="1" height="3" fill="#F4A460"/>
<rect x="503" y="263" width="1" height="3" fill="#F4A460"/>
<rect x="503" y="269" width="1" height="3" fill="#F4A460"/>
<rect x="503" y="275" width="1" height="3" fill="#F4A460"/>
<rect x="507" y="243" width="1" height="3" fill="#F4A460"/>
<rect x="507" y="249" width="1" height="3" fill="#F4A460"/>
<rect x="507" y="255" width="1" height="3" fill="#F4A460"/>
<rect x="507" y="261" width="1" height="3" fill="#F4A460"/>
<rect x="507" y="267" width="1" height="3" fill="#F4A460"/>
<rect x="507" y="273" width="1" height="3" fill="#F4A460"/>
<rect x="511" y="247" width="1" height="3" fill="#F4A460"/>
<rect x="511" y="253" width="1" height="3" fill="#F4A460"/>
<rect x="511" y="259" width="1" height="3" fill="#F4A460"/>
<rect x="511" y="265" width="1" height="3" fill="#F4A460"/>
<rect x="511" y="271" width="1" height="3" fill="#F4A460"/>
<rect x="511" y="277" width="1" height="2" fill="#F4A460"/>
<rect x="515" y="247" width="1" height="3" fill="#F4A460"/>
<rect x="515" y="253" width="1" height="3" fill="#F4A460"/>
<rect x="515" y="259" width="1" height="3" fill="#F4A460"/>
<rect x="515" y="265" width="1" height="3" fill="#F4A460"/>
<rect x="515" y="271" width="1" height="3" fill="#F4A460"/>
<rect x="515" y="277" width="1" height="2" fill="#F4A460"/>
<rect x="519" y="247" width="1" height="3" fill="#F4A460"/>
<rect x="519" y="253" width="1" height="3" fill="#F4A460"/>
<rect x="519" y="259" width="1" height="3" fill="#F4A460"/>
<rect x="519" y="265" width="1" height="3" fill="#F4A460"/>
<rect x="519" y="271" width="1" height="3" fill="#F4A460"/>
<rect x="519" y="277" width="1" height="2" fill="#F4A460"/>
<rect x="523" y="247" width="1" height="3" fill="#F4A460"/>
<rect x="523" y="253" width="1" height="3" fill="#F4A460"/>
<rect x="523" y="259" width="1" height="3" fill="#F4A460"/>
<rect x="523" y="265" width="1" height="3" fill="#F4A460"/>
<rect x="523" y="271" width="1" height="3" fill="#F4A460"/>
<rect x="523" y="277" width="1" height="2" fill="#F4A460"/>
<rect x="527" y="247" width="1" height="3" fill="#F4A460"/>
<rect x="527" y="253" width="1" height="3" fill="#F4A460"/>
<rect x="527" y="259" width="1" height="3" fill="#F4A460"/>
<rect x="527" y="265" width="1" height="3" fill="#F4A460"/>
<rect x="527" y="271" width="1" height="3" fill="#F4A460"/>
<rect x="527" y="277" width="1" height="2" fill="#F4A460"/>
<rect x="531" y="234" width="1" height="3" fill="#F4A460"/>
<rect x="531" y="240" width="1" height="3" fill="#F4A460"/>
<rect x="531" y="246" width="1" height="3" fill="#F4A460"/>
<rect x="531" y="252" width="1" height="3" fill="#F4A460"/>
<rect x="531" y="258" width="1" height="3" fill="#F4A460"/>
<rect x="531" y="264" width="1" height="3" fill="#F4A460"/>
<rect x="531" y="270" width="1" height="3" fill="#F4A460"/>
<rect x="535" y="216" width="1" height="3" fill="#F4A460"/>
<rect x="535" y="222" width="1" height="3" fill="#F4A460"/>
<rect x="535" y="228" width="1" height="3" fill="#F4A460"/>
<rect x="535" y="234" width="1" height="3" fill="#F4A460"/>
<rect x="535" y="240" width="1" height="3" fill="#F4A460"/>
<rect x="535" y="246" width="1" height="3" fill="#F4A460"/>
<rect x="535" y="252" width="1" height="3" fill="#F4A460"/>
<rect x="535" y="258" width="1" height="2" fill="#F4A460"/>
<rect x="539" y="213" width="1" height="3" fill="#F4A460"/>
<rect x="539" y="219" width="1" height="3" fill="#F4A460"/>
<rect x="539" y="225" width="1" height="3" fill="#F4A460"/>
<rect x="539" y="231" width="1" height="3" fill="#F4A460"/>
<rect x="539" y="237" width="1" height="3" fill="#F4A460"/>
<rect x="539" y="243" width="1" height="3" fill="#F4A460"/>
<rect x="539" y="249" width="1" height="3" fill="#F4A460"/>
<rect x="543" y="202" width="1" height="3" fill="#F4A460"/>
<rect x="543" y="208" width="1" height="3" fill="#F4A460"/>
<rect x="543" y="214" width="1" height="3" fill="#F4A460"/>
<rect x="543" y="220" width="1" height="3" fill="#F4A460"/>
<rect x="543" y="226" width="1" height="3" fill="#F4A460"/>
<rect x="543" y="232" width="1" height="3" fill="#F4A460"/>
<rect x="543" y="238" width="1" height="3" fill="#F4A460"/>
<rect x="543" y="244" width="1" height="2" fill="#F4A460"/>
<rect x="547" y="200" width="1" height="3" fill="#F4A460"/>
<rect x="547" y="206" width="1" height="3" fill="#F4A460"/>
<rect x="547" y="212" width="1" height="3" fill="#F4A460"/>
<rect x="547" y="218" width="1" height="3" fill="#F4A460"/>
<rect x="547" y="224" width="1" height="3" fill="#F4A460"/>
<rect x="547" y="230" width="1" height="3" fill="#F4A460"/>
<rect x="547" y="236" width="1" height="3" fill="#F4A460"/>
<rect x="547" y="242" width="1" height="1" fill="#F4A460"/>
<rect x="551" y="199" width="1" height="3" fill="#F4A460"/>
<rect x="551" y="205" width="1" height="3" fill="#F4A460"/>
<rect x="551" y="211" width="1" height="3" fill="#F4A460"/>
<rect x="551" y="217" width="1" height="3" fill="#F4A460"/>
<rect x="551" y="223" width="1" height="3" fill="#F4A460"/>
<rect x="551" y="229" width="1" height="3" fill="#F4A460"/>
<rect x="551" y="235" width="1" height="3" fill="#F4A460"/>
<rect x="555" y="185" width="1" height="3" fill="#F4A460"/>
<rect x="555" y="191" width="1" height="3" fill="#F4A460"/>
<rect x="555" y="197" width="1" height="3" fill="#F4A460"/>
<rect x="555" y="203" width="1" height="3" fill="#F4A460"/>
<rect x="555" y="209" width="1" height="3" fill="#F4A460"/>
<rect x="555" y="215" width="1" height="3" fill="#F4A460"/>
<rect x="555" y="221" width="1" height="3" fill="#F4A460"/>
<rect x="555" y="227" width="1" height="1" fill="#F4A460"/>
<rect x="559" y="174" width="1" height="3" fill="#F4A460"/>
<rect x="559" y="180" width="1" height="3" fill="#F4A460"/>
<rect x="559" y="186" width="1" height="3" fill="#F4A460"/>
<rect x="559" y="192" width="1" height="3" fill="#F4A460"/>
<rect x="559" y="198" width="1" height="3" fill="#F4A460"/>
<rect x="559" y="204" width="1" height="3" fill="#F4A460"/>
<rect x="559" y="210" width="1" height="3" fill="#F4A460"/>
<rect x="559" y="216" width="1" height="3" fill="#F4A460"/>
<rect x="559" y="222" width="1" height="2" fill="#F4A460"/>
<rect x="563" y="172" width="1" height="3" fill="#F4A460"/>
<rect x="563" y="178" width="1" height="3" fill="#F4A460"/>
<rect x="563" y="184" width="1" height="3" fill="#F4A460"/>
<rect x="563" y="190" width="1" height="3" fill="#F4A460"/>
<rect x="563" y="196" width="1" height="3" fill="#F4A460"/>
<rect x="563" y="202" width="1" height="3" fill="#F4A460"/>
<rect x="563" y="208" width="1" height="3" fill="#F4A460"/>
<rect x="563" y="214" width="1" height="3" fill="#F4A460"/>
<rect x="563" y="220" width="1" height="3" fill="#F4A460"/>
<rect x="567" y="172" width="1" height="3" fill="#F4A460"/>
<rect x="567" y="178" width="1" height="3" fill="#F4A460"/>
<rect x="567" y="184" width="1" height="3" fill="#F4A460"/>
<rect x="567" y="190" width="1" height="3" fill="#F4A460"/>
<rect x="567" y="196" width="1" height="3" fill="#F4A460"/>
<rect x="567" y="202" width="1" height="3" fill="#F4A460"/>
<rect x="567" y="208" width="1" height="3" fill="#F4A460"/>
<rect x="567" y="214" width="1" height="3" fill="#F4A460"/>
<rect x="567" y="220" width="1" height="3" fill="#F4A460"/>
<rect x="571" y="172" width="1" height="3" fill="#F4A460"/>
<rect x="571" y="178" width="1" height="3" fill="#F4A460"/>
<rect x="571" y="184" width="1" height="3" fill="#F4A460"/>
<rect x="571" y="190" width="1" height="3" fill="#F4A460"/>
<rect x="571" y="196" width="1" height="3" fill="#F4A460"/>
<rect x="571" y="202" width="1" height="3" fill="#F4A460"/>
<rect x="571" y="208" width="1" height="3" fill="#F4A460"/>
<rect x="571" y="214" width="1" height="3" fill="#F4A460"/>
<rect x="571" y="220" width="1" height="3" fill="#F4A460"/>
<rect x="575" y="171" width="1" height="3" fill="#F4A460"/>
<rect x="575" y="177" width="1" height="3" fill="#F4A460"/>
<rect x="575" y="183" width="1" height="3" fill="#F4A460"/>
<rect x="575" y="189" width="1" height="3" fill="#F4A460"/>
<rect x="575" y="195" width="1" height="3" fill="#F4A460"/>
<rect x="575" y="201" width="1" height="3" fill="#F4A460"/>
<rect x="575" y="207" width="1" height="3" fill="#F4A460"/>
<rect x="575" y="213" width="1" height="3" fill="#F4A460"/>
<rect x="575" y="219" width="1" height="3" fill="#F4A460"/>
<rect x="579" y="162" width="1" height="3" fill="#F4A460"/>
<rect x="579" y="168" width="1" height="3" fill="#F4A460"/>
<rect x="579" y="174" width="1" height="3" fill="#F4A460"/>
<rect x="579" y="180" width="1" height="3" fill="#F4A460"/>
<rect x="579" y="186" width="1" height="3" fill="#F4A460"/>
<rect x="579" y="192" width="1" height="3" fill="#F4A460"/>
<rect x="579" y="198" width="1" height="3" fill="#F4A460"/>
<rect x="579" y="204" width="1" height="3" fill="#F4A460"/>
<rect x="579" y="210" width="1" height="3" fill="#F4A460"/>
<rect x="579" y="216" width="1" height="3" fill="#F4A460"/>
<rect x="579" y="222" width="1" height="2" fill="#F4A460"/>
<rect x="583" y="157" width="1" height="3" fill="#F4A460"/>
<rect x="583" y="163" width="1" height="3" fill="#F4A460"/>
<rect x="583" y="169" width="1" height="3" fill="#F4A460"/>
<rect x="583" y="175" width="1" height="3" fill="#F4A460"/>
<rect x="583" y="181" width="1" height="3" fill="#F4A460"/>
<rect x="583" y="187" width="1" height="3" fill="#F4A460"/>
<rect x="583" y="193" width="1" height="3" fill="#F4A460"/>
<rect x="583" y="199" width="1" height="3" fill="#F4A460"/>
<rect x="583" y="205" width="1" height="3" fill="#F4A460"/>
<rect x="583" y="211" width="1" height="3" fill="#F4A460"/>
<rect x="583" y="217" width="1" height="3" fill="#F4A460"/>
<rect x="583" y="223" width="1" height="1" fill="#F4A460"/>
<rect x="587" y="151" width="1" height="3" fill="#F4A460"/>
<rect x="587" y="157" width="1" height="3" fill="#F4A460"/>
<rect x="587" y="163" width="1" height="3" fill="#F4A460"/>
<rect x="587" y="169" width="1" height="3" fill="#F4A460"/>
<rect x="587" y="175" width="1" height="3" fill="#F4A460"/>
<rect x="587" y="181" width="1" height="3" fill="#F4A460"/>
<rect x="587" y="187" width="1" height="3" fill="#F4A460"/>
<rect x="587" y="193" width="1" height="3" fill="#F4A460"/>
<rect x="587" y="199" width="1" height="3" fill="#F4A460"/>
<rect x="587" y="205" width="1" height="3" fill="#F4A460"/>
<rect x="587" y="211" width="1" height="3" fill="#F4A460"/>
<rect x="587" y="217" width="1" height="3" fill="#F4A460"/>
<rect x="587" y="223" width="1" height="1" fill="#F4A460"/>
<rect x="591" y="147" width="1" height="3" fill="#F4A460"/>
<rect x="591" y="153" width="1" height="3" fill="#F4A460"/>
<rect x="591" y="159" width="1" height="3" fill="#F4A460"/>
<rect x="591" y="165" width="1" height="3" fill="#F4A460"/>
<rect x="591" y="171" width="1" height="3" fill="#F4A460"/>
<rect x="591" y="177" width="1" height="3" fill="#F4A460"/>
<rect x="591" y="183" width="1" height="3" fill="#F4A460"/>
<rect x="591" y="189" width="1" height="3" fill="#F4A460"/>
<rect x="591" y="195" width="1" height="3" fill="#F4A460"/>
<rect x="591" y="201" width="1" height="3" fill="#F4A460"/>
<rect x="591" y="207" width="1" height="3" fill="#F4A460"/>
<rect x="591" y="213" width="1" height="3" fill="#F4A460"/>
<rect x="591" y="219" width="1" height="3" fill="#F4A460"/>
<rect x="595" y="142" width="1" height="3" fill="#F4A460"/>
<rect x="595" y="148" width="1" height="3" fill="#F4A460"/>
<rect x="595" y="154" width="1" height="3" fill="#F4A460"/>
<rect x="595" y="160" width="1" height="3" fill="#F4A460"/>
<rect x="595" y="166" width="1" height="3" fill="#F4A460"/>
<rect x="595" y="172" width="1" height="3" fill="#F4A460"/>
<rect x="595" y="178" width="1" height="3" fill="#F4A460"/>
<rect x="595" y="184" width="1" height="3" fill="#F4A460"/>
<rect x="595" y="190" width="1" height="3" fill="#F4A460"/>
<rect x="595" y="196" width="1" height="3" fill="#F4A460"/>
<rect x="595" y="202" width="1" height="3" fill="#F4A460"/>
<rect x="595" y="208" width="1" height="3" fill="#F4A460"/>
<rect x="595" y="214" width="1" height="3" fill="#F4A460"/>
<rect x="595" y="220" width="1" height="1" fill="#F4A460"/>
<rect x="599" y="141" width="1" height="3" fill="#F4A460"/>
<rect x="599" y="147" width="1" height="3" fill="#F4A460"/>
<rect x="599" y="153" width="1" height="3" fill="#F4A460"/>
<rect x="599" y="159" width="1" height="3" fill="#F4A460"/>
<rect x="599" y="165" width="1" height="3" fill="#F4A460"/>
<rect x="599" y="171" width="1" height="3" fill="#F4A460"/>
<rect x="599" y="177" width="1" height="3" fill="#F4A460"/>
<rect x="599" y="183" width="1" height="3" fill="#F4A460"/>
<rect x="599" y="189" width="1" height="3" fill="#F4A460"/>
<rect x="599" y="195" width="1" height="3" fill="#F4A460"/>
<rect x="599" y="201" width="1" height="3" fill="#F4A460"/>
<rect x="599" y="207" width="1" height="3" fill="#F4A460"/>
<rect x="599" y="213" width="1" height="3" fill="#F4A460"/>
<rect x="599" y="219" width="1" height="1" fill="#F4A460"/>
<rect x="603" y="141" width="1" height="3" fill="#F4A460"/>
<rect x="603" y="147" width="1" height="3" fill="#F4A460"/>
<rect x="603" y="153" width="1" height="3" fill="#F4A460"/>
<rect x="603" y="159" width="1" height="3" fill="#F4A460"/>
<rect x="603" y="165" width="1" height="3" fill="#F4A460"/>
<rect x="603" y="171" width="1" height="3" fill="#F4A460"/>
<rect x="603" y="177" width="1" height="3" fill="#F4A460"/>
<rect x="603" y="183" width="1" height="3" fill="#F4A460"/>
<rect x="603" y="189" width="1" height="3" fill="#F4A460"/>
<rect x="603" y="195" width="1" height="3" fill="#F4A460"/>
<rect x="603" y="201" width="1" height="3" fill="#F4A460"/>
<rect x="603" y="207" width="1" height="3" fill="#F4A460"/>
<rect x="603" y="213" width="1" height="3" fill="#F4A460"/>
<rect x="607" y="132" width="1" height="3" fill="#F4A460"/>
<rect x="607" y="138" width="1" height="3" fill="#F4A460"/>
<rect x="607" y="144" width="1" height="3" fill="#F4A460"/>
<rect x="607" y="150" width="1" height="3" fill="#F4A460"/>
<rect x="607" y="156" width="1" height="3" fill="#F4A460"/>
<rect x="607" y="162" width="1" height="3" fill="#F4A460"/>
<rect x="607" y="168" width="1" height="3" fill="#F4A460"/>
<rect x="607" y="174" width="1" height="3" fill="#F4A460"/>
<rect x="607" y="180" width="1" height="3" fill="#F4A460"/>
<rect x="607" y="186" width="1" height="3" fill="#F4A460"/>
<rect x="607" y="192" width="1" height="3" fill="#F4A460"/>
<rect x="607" y="198" width="1" height="3" fill="#F4A460"/>
<rect x="607" y="204" width="1" height="3" fill="#F4A460"/>
<rect x="607" y="210" width="1" height="3" fill="#F4A460"/>
<rect x="611" y="129" width="1" height="3" fill="#F4A460"/>
<rect x="611" y="135" width="1" height="3" fill="#F4A460"/>
<rect x="611" y="141" width="1" height="3" fill="#F4A460"/>
<rect x="611" y="147" width="1" height="3" fill="#F4A460"/>
<rect x="611" y="153" width="1" height="3" fill="#F4A460"/>
<rect x="611" y="159" width="1" height="3" fill="#F4A460"/>
<rect x="611" y="165" width="1" height="3" fill="#F4A460"/>
<rect x="611" y="171" width="1" height="3" fill="#F4A460"/>
<rect x="611" y="177" width="1" height="3" fill="#F4A460"/>
<rect x="611" y="183" width="1" height="3" fill="#F4A460"/>
<rect x="611" y="189" width="1" height="3" fill="#F4A460"/>
<rect x="611" y="195" width="1" height="3" fill="#F4A460"/>
<rect x="611" y="201" width="1" height="3" fill="#F4A460"/>
<rect x="611" y="207" width="1" height="3" fill="#F4A460"/>
<rect x="615" y="103" width="1" height="3" fill="#F4A460"/>
<rect x="615" y="109" width="1" height="3" fill="#F4A460"/>
<rect x="615" y="115" width="1" height="3" fill="#F4A460"/>
<rect x="615" y="121" width="1" height="3" fill="#F4A460"/>
<rect x="615" y="127" width="1" height="3" fill="#F4A460"/>
<rect x="615" y="133" width="1" height="3" fill="#F4A460"/>
<rect x="615" y="139" width="1" height="3" fill="#F4A460"/>
<rect x="615" y="145" width="1" height="3" fill="#F4A460"/>
<rect x="615" y="151" width="1" height="3" fill="#F4A460"/>
<rect x="615" y="157" width="1" height="3" fill="#F4A460"/>
<rect x="615" y="163" width="1" height="3" fill="#F4A460"/>
<rect x="615" y="169" width="1" height="3" fill="#F4A460"/>
<rect x="615" y="175" width="1" height="3" fill="#F4A460"/>
<rect x="615" y="181" width="1" height="3" fill="#F4A460"/>
<rect x="619" y="102" width="1" height="3" fill="#F4A460"/>
<rect x="619" y="108" width="1" height="3" fill="#F4A460"/>
<rect x="619" y="114" width="1" height="3" fill="#F4A460"/>
<rect x="619" y="120" width="1" height="3" fill="#F4A460"/>
<rect x="619" y="126" width="1" height="3" fill="#F4A460"/>
<rect x="619" y="132" width="1" height="3" fill="#F4A460"/>
<rect x="619" y="138" width="1" height="3" fill="#F4A460"/>
<rect x="619" y="144" width="1" height="3" fill="#F4A460"/>
<rect x="619" y="150" width="1" height="3" fill="#F4A460"/>
<rect x="619" y="156" width="1" height="3" fill="#F4A460"/>
<rect x="619" y="162" width="1" height="3" fill="#F4A460"/>
<rect x="619" y="168" width="1" height="3" fill="#F4A460"/>
<rect x="619" y="174" width="1" height="3" fill="#F4A460"/>
<rect x="619" y="180" width="1" height="3" fill="#F4A460"/>
<rect x="623" y="102" width="1" height="3" fill="#F4A460"/>
<rect x="623" y="108" width="1" height="3" fill="#F4A460"/>
<rect x="623" y="114" width="1" height="3" fill="#F4A460"/>
<rect x="623" y="120" width="1" height="3" fill="#F4A460"/>
<rect x="623" y="126" width="1" height="3" fill="#F4A460"/>
<rect x="623" y="132" width="1" height="3" fill="#F4A460"/>
<rect x="623" y="138" width="1" height="3" fill="#F4A460"/>
<rect x="623" y="144" width="1" height="3" fill="#F4A460"/>
<rect x="623" y="150" width="1" height="3" fill="#F4A460"/>
<rect x="623" y="156" width="1" height="3" fill="#F4A460"/>
<rect x="623" y="162" width="1" height="3" fill="#F4A460"/>
<rect x="623" y="168" width="1" height="3" fill="#F4A460"/>
<rect x="623" y="174" width="1" height="3" fill="#F4A460"/>
<rect x="623" y="180" width="1" height="3" fill="#F4A460"/>
<rect x="627" y="93" width="1" height="3" fill="#F4A460"/>
<rect x="627" y="99" width="1" height="3" fill="#F4A460"/>
<rect x="627" y="105" width="1" height="3" fill="#F4A460"/>
<rect x="627" y="111" width="1" height="3" fill="#F4A460"/>
<rect x="627" y="117" width="1" height="3" fill="#F4A460"/>
<rect x="627" y="123" width="1" height="3" fill="#F4A460"/>
<rect x="627" y="129" width="1" height="3" fill="#F4A460"/>
<rect x="627" y="135" width="1" height="3" fill="#F4A460"/>
<rect x="627" y="141" width="1" height="3" fill="#F4A460"/>
<rect x="627" y="147" width="1" height="3" fill="#F4A460"/>
<rect x="627" y="153" width="1" height="3" fill="#F4A460"/>
<rect x="627" y="159" width="1" height="3" fill="#F4A460"/>
<rect x="627" y="165" width="1" height="3" fill="#F4A460"/>
<rect x="627" y="171" width="1" height="3" fill="#F4A460"/>
<rect x="627" y="177" width="1" height="3" fill="#F4A460"/>
<rect x="627" y="183" width="1" height="1" fill="#F4A460"/>
<rect x="631" y="86" width="1" height="3" fill="#F4A460"/>
<rect x="631" y="92" width="1" height="3" fill="#F4A460"/>
<rect x="631" y="98" width="1" height="3" fill="#F4A460"/>
<rect x="631" y="104" width="1" height="3" fill="#F4A460"/>
<rect x="631" y="110" width="1" height="3" fill="#F4A460"/>
<rect x="631" y="116" width="1" height="3" fill="#F4A460"/>
<rect x="631" y="122" width="1" height="3" fill="#F4A460"/>
<rect x="631" y="128" width="1" height="3" fill="#F4A460"/>
<rect x="631" y="134" width="1" height="3" fill="#F4A460"/>
<rect x="631" y="140" width="1" height="3" fill="#F4A460"/>
<rect x="631" y="146" width="1" height="3" fill="#F4A460"/>
<rect x="631" y="152" width="1" height="3" fill="#F4A460"/>
<rect x="631" y="158" width="1" height="3" fill="#F4A460"/>
<rect x="631" y="164" width="1" height="3" fill="#F4A460"/>
<rect x="631" y="170" width="1" height="3" fill="#F4A460"/>
<rect x="631" y="176" width="1" height="3" fill="#F4A460"/>
<rect x="631" y="182" width="1" height="2" fill="#F4A460"/>
<rect x="635" y="80" width="1" height="3" fill="#F4A460"/>
<rect x="635" y="86" width="1" height="3" fill="#F4A460"/>
<rect x="635" y="92" width="1" height="3" fill="#F4A460"/>
<rect x="635" y="98" width="1" height="3" fill="#F4A460"/>
<rect x="635" y="104" width="1" height="3" fill="#F4A460"/>
<rect x="635" y="110" width="1" height="3" fill="#F4A460"/>
<rect x="635" y="116" width="1" height="3" fill="#F4A460"/>
<rect x="635" y="122" width="1" height="3" fill="#F4A460"/>
<rect x="635" y="128" width="1" height="3" fill="#F4A460"/>
<rect x="635" y="134" width="1" height="3" fill="#F4A460"/>
<rect x="635" y="140" width="1" height="3" fill="#F4A460"/>
<rect x="635" y="146" width="1" height="3" fill="#F4A460"/>
<rect x="635" y="152" width="1" height="3" fill="#F4A460"/>
<rect x="635" y="158" width="1" height="3" fill="#F4A460"/>
<rect x="635" y="164" width="1" height="3" fill="#F4A460"/>
<rect x="635" y="170" width="1" height="3" fill="#F4A460"/>
<rect x="635" y="176" width="1" height="3" fill="#F4A460"/>
<rect x="635" y="182" width="1" height="2" fill="#F4A460"/>
<rect x="639" y="76" width="1" height="3" fill="#F4A460"/>
<rect x="639" y="82" width="1" height="3" fill="#F4A460"/>
<rect x="639" y="88" width="1" height="3" fill="#F4A460"/>
<rect x="639" y="94" width="1" height="3" fill="#F4A460"/>
<rect x="639" y="100" width="1" height="3" fill="#F4A460"/>
<rect x="639" y="106" width="1" height="3" fill="#F4A460"/>
<rect x="639" y="112" width="1" height="3" fill="#F4A460"/>
<rect x="639" y="118" width="1" height="3" fill="#F4A460"/>
<rect x="639" y="124" width="1" height="3" fill="#F4A460"/>
<rect x="639" y="130" width="1" height="3" fill="#F4A460"/>
<rect x="639" y="136" width="1" height="3" fill="#F4A460"/>
<rect x="639" y="142" width="1" height="3" fill="#F4A460"/>
<rect x="639" y="148" width="1" height="3" fill="#F4A460"/>
<rect x="639" y="154" width="1" height="3" fill="#F4A460"/>
<rect x="639" y="160" width="1" height="3" fill="#F4A460"/>
<rect x="639" y="166" width="1" height="3" fill="#F4A460"/>
<rect x="639" y="172" width="1" height="3" fill="#F4A460"/>
<rect x="639" y="178" width="1" height="3" fill="#F4A460"/>
<rect x="643" y="75" width="1" height="3" fill="#F4A460"/>
<rect x="643" y="81" width="1" height="3" fill="#F4A460"/>
<rect x="643" y="87" width="1" height="3" fill="#F4A460"/>
<rect x="643" y="93" width="1" height="3" fill="#F4A460"/>
<rect x="643" y="99" width="1" height="3" fill="#F4A460"/>
<rect x="643" y="105" width="1" height="3" fill="#F4A460"/>
<rect x="643" y="111" width="1" height="3" fill="#F4A460"/>
<rect x="643" y="117" width="1" height="3" fill="#F4A460"/>
<rect x="643" y="123" width="1" height="3" fill="#F4A460"/>
<rect x="643" y="129" width="1" height="3" fill="#F4A460"/>
<rect x="643" y="135" width="1" height="3" fill="#F4A460"/>
<rect x="643" y="141" width="1" height="3" fill="#F4A460"/>
<rect x="643" y="147" width="1" height="3" fill="#F4A460"/>
<rect x="643" y="153" width="1" height="3" fill="#F4A460"/>
<rect x="643" y="159" width="1" height="3" fill="#F4A460"/>
<rect x="643" y="165" width="1" height="3" fill="#F4A460"/>
<rect x="643" y="171" width="1" height="3" fill="#F4A460"/>
<rect x="643" y="177" width="1" height="3" fill="#F4A460"/>
<rect x="643" y="183" width="1" height="1" fill="#F4A460"/>
<rect x="647" y="75" width="1" height="3" fill="#F4A460"/>
<rect x="647" y="81" width="1" height="3" fill="#F4A460"/>
<rect x="647" y="87" width="1" height="3" fill="#F4A460"/>
<rect x="647" y="93" width="1" height="3" fill="#F4A460"/>
<rect x="647" y="99" width="1" height="3" fill="#F4A460"/>
<rect x="647" y="105" width="1" height="3" fill="#F4A460"/>
<rect x="647" y="111" width="1" height="3" fill="#F4A460"/>
<rect x="647" y="117" width="1" height="3" fill="#F4A460"/>
<rect x="647" y="123" width="1" height="3" fill="#F4A460"/>
<rect x="647" y="129" width="1" height="3" fill="#F4A460"/>
<rect x="647" y="135" width="1" height="3" fill="#F4A460"/>
<rect x="647" y="141" width="1" height="3" fill="#F4A460"/>
<rect x="647" y="147" width="1" height="3" fill="#F4A460"/>
<rect x="647" y="153" width="1" height="3" fill="#F4A460"/>
<rect x="647" y="159" width="1" height="3" fill="#F4A460"/>
<rect x="647" y="165" width="1" height="3" fill="#F4A460"/>
<rect x="647" y="171" width="1" height="3" fill="#F4A460"/>
<rect x="647" y="177" width="1" height="3" fill="#F4A460"/>
<rect x="647" y="183" width="1" height="1" fill="#F4A460"/>
<rect x="651" y="70" width="1" height="3" fill="#F4A460"/>
<rect x="651" y="76" width="1" height="3" fill="#F4A460"/>
<rect x="651" y="82" width="1" height="3" fill="#F4A460"/>
<rect x="651" y="88" width="1" height="3" fill="#F4A460"/>
<rect x="651" y="94" width="1" height="3" fill="#F4A460"/>
<rect x="651" y="100" width="1" height="3" fill="#F4A460"/>
<rect x="651" y="106" width="1" height="3" fill="#F4A460"/>
<rect x="651" y="112" width="1" height="3" fill="#F4A460"/>
<rect x="651" y="118" width="1" height="3" fill="#F4A460"/>
<rect x="651" y="124" width="1" height="3" fill="#F4A460"/>
<rect x="651" y="130" width="1" height="3" fill="#F4A460"/>
<rect x="651" y="136" width="1" height="3" fill="#F4A460"/>
<rect x="651" y="142" width="1" height="3" fill="#F4A460"/>
<rect x="651" y="148" width="1" height="3" fill="#F4A460"/>
<rect x="651" y="154" width="1" height="3" fill="#F4A460"/>
<rect x="651" y="160" width="1" height="3" fill="#F4A460"/>
<rect x="651" y="166" width="1" height="3" fill="#F4A460"/>
<rect x="651" y="172" width="1" height="3" fill="#F4A460"/>
<rect x="651" y="178" width="1" height="3" fill="#F4A460"/>
<rect x="655" y="69" width="1" height="3" fill="#F4A460"/>
<rect x="655" y="75" width="1" height="3" fill="#F4A460"/>
<rect x="655" y="81" width="1" height="3" fill="#F4A460"/>
<rect x="655" y="87" width="1" height="3" fill="#F4A460"/>
<rect x="655" y="93" width="1" height="3" fill="#F4A460"/>
<rect x="655" y="99" width="1" height="3" fill="#F4A460"/>
<rect x="655" y="105" width="1" height="3" fill="#F4A460"/>
<rect x="655" y="111" width="1" height="3" fill="#F4A460"/>
<rect x="655" y="117" width="1" height="3" fill="#F4A460"/>
<rect x="655" y="123" width="1" height="3" fill="#F4A460"/>
<rect x="655" y="129" width="1" height="3" fill="#F4A460"/>
<rect x="655" y="135" width="1" height="3" fill="#F4A460"/>
<rect x="655" y="141" width="1" height="3" fill="#F4A460"/>
<rect x="655" y="147" width="1" height="3" fill="#F4A460"/>
<rect x="655" y="153" width="1" height="3" fill="#F4A460"/>
<rect x="655" y="159" width="1" height="3" fill="#F4A460"/>
<rect x="655" y="165" width="1" height="3" fill="#F4A460"/>
<rect x="655" y="171" width="1" height="3" fill="#F4A460"/>
<rect x="655" y="177" width="1" height="3" fill="#F4A460"/>
<rect x="659" y="66" width="1" height="3" fill="#F4A460"/>
<rect x="659" y="72" width="1" height="3" fill="#F4A460"/>
<rect x="659" y="78" width="1" height="3" fill="#F4A460"/>
<rect x="659" y="84" width="1" height="3" fill="#F4A460"/>
<rect x="659" y="90" width="1" height="3" fill="#F4A460"/>
<rect x="659" y="96" width="1" height="3" fill="#F4A460"/>
<rect x="659" y="102" width="1" height="3" fill="#F4A460"/>
<rect x="659" y="108" width="1" height="3" fill="#F4A460"/>
<rect x="659" y="114" width="1" height="3" fill="#F4A460"/>
<rect x="659" y="120" width="1" height="3" fill="#F4A460"/>
<rect x="659" y="126" width="1" height="3" fill="#F4A460"/>
<rect x="659" y="132" width="1" height="3" fill="#F4A460"/>
<rect x="659" y="138" width="1" height="3" fill="#F4A460"/>
<rect x="659" y="144" width="1" height="3" fill="#F4A460"/>
<rect x="659" y="150" width="1" height="3" fill="#F4A460"/>
<rect x="659" y="156" width="1" height="3" fill="#F4A460"/>
<rect x="659" y="162" width="1" height="3" fill="#F4A460"/>
<rect x="659" y="168" width="1" height="3" fill="#F4A460"/>
<rect x="659" y="174" width="1" height="3" fill="#F4A460"/>
<rect x="659" y="180" width="1" height="3" fill="#F4A460"/>
<rect x="663" y="66" width="1" height="3" fill="#F4A460"/>
<rect x="663" y="72" width="1" height="3" fill="#F4A460"/>
<rect x="663" y="78" width="1" height="3" fill="#F4A460"/>
<rect x="663" y="84" width="1" height="3" fill="#F4A460"/>
<rect x="663" y="90" width="1" height="3" fill="#F4A460"/>
<rect x="663" y="96" width="1" height="3" fill="#F4A460"/>
<rect x="663" y="102" width="1" height="3" fill="#F4A460"/>
<rect x="663" y="108" width="1" height="3" fill="#F4A460"/>
<rect x="663" y="114" width="1" height="3" fill="#F4A460"/>
<rect x="663" y="120" width="1" height="3" fill="#F4A460"/>
<rect x="663" y="126" width="1" height="3" fill="#F4A460"/>
<rect x="663" y="132" width="1" height="3" fill="#F4A460"/>
<rect x="663" y="138" width="1" height="3" fill="#F4A460"/>
<rect x="663" y="144" width="1" height="3" fill="#F4A460"/>
<rect x="663" y="150" width="1" height="3" fill="#F4A460"/>
<rect x="663" y="156" width="1" height="3" fill="#F4A460"/>
<rect x="663" y="162" width="1" height="3" fill="#F4A460"/>
<rect x="663" y="168" width="1" height="3" fill="#F4A460"/>
<rect x="663" y="174" width="1" height="3" fill="#F4A460"/>
<rect x="663" y="180" width="1" height="3" fill="#F4A460"/>
<rect x="667" y="66" width="1" height="3" fill="#F4A460"/>
<rect x="667" y="72" width="1" height="3" fill="#F4A460"/>
<rect x="667" y="78" width="1" height="3" fill="#F4A460"/>
<rect x="667" y="84" width="1" height="3" fill="#F4A460"/>
<rect x="667" y="90" width="1" height="3" fill="#F4A460"/>
<rect x="667" y="96" width="1" height="3" fill="#F4A460"/>
<rect x="667" y="102" width="1" height="3" fill="#F4A460"/>
<rect x="667" y="108" width="1" height="3" fill="#F4A460"/>
<rect x="667" y="114" width="1" height="3" fill="#F4A460"/>
<rect x="667" y="120" width="1" height="3" fill="#F4A460"/>
<rect x="667" y="126" width="1" height="3" fill="#F4A460"/>
<rect x="667" y="132" width="1" height="3" fill="#F4A460"/>
<rect x="667" y="138" width="1" height="3" fill="#F4A460"/>
<rect x="667" y="144" width="1" height="3" fill="#F4A460"/>
<rect x="667" y="150" width="1" height="3" fill="#F4A460"/>
<rect x="667" y="156" width="1" height="3" fill="#F4A460"/>
<rect x="667" y="162" width="1" height="3" fill="#F4A460"/>
<rect x="667" y="168" width="1" height="3" fill="#F4A460"/>
<rect x="667" y="174" width="1" height="3" fill="#F4A460"/>
<rect x="667" y="180" width="1" height="3" fill="#F4A460"/>
<rect x="671" y="66" width="1" height="3" fill="#F4A460"/>
<rect x="671" y="72" width="1" height="3" fill="#F4A460"/>
<rect x="671" y="78" width="1" height="3" fill="#F4A460"/>
<rect x="671" y="84" width="1" height="3" fill="#F4A460"/>
<rect x="671" y="90" width="1" height="3" fill="#F4A460"/>
<rect x="671" y="96" width="1" height="3" fill="#F4A460"/>
<rect x="671" y="102" width="1" height="3" fill="#F4A460"/>
<rect x="671" y="108" width="1" height="3" fill="#F4A460"/>
<rect x="671" y="114" width="1" height="3" fill="#F4A460"/>
<rect x="671" y="120" width="1" height="3" fill="#F4A460"/>
<rect x="671" y="126" width="1" height="3" fill="#F4A460"/>
<rect x="671" y="132" width="1" height="3" fill="#F4A460"/>
<rect x="671" y="138" width="1" height="3" fill="#F4A460"/>
<rect x="671" y="144" width="1" height="3" fill="#F4A460"/>
<rect x="671" y="150" width="1" height="3" fill="#F4A460"/>
<rect x="671" y="156" width="1" height="3" fill="#F4A460"/>
<rect x="671" y="162" width="1" height="3" fill="#F4A460"/>
<rect x="671" y="168" width="1" height="3" fill="#F4A460"/>
<rect x="671" y="174" width="1" height="3" fill="#F4A460"/>
<rect x="671" y="180" width="1" height="3" fill="#F4A460"/>
<rect x="675" y="63" width="1" height="3" fill="#F4A460"/>
<rect x="675" y="69" width="1" height="3" fill="#F4A460"/>
<rect x="675" y="75" width="1" height="3" fill="#F4A460"/>
<rect x="675" y="81" width="1" height="3" fill="#F4A460"/>
<rect x="675" y="87" width="1" height="3" fill="#F4A460"/>
<rect x="675" y="93" width="1" height="3" fill="#F4A460"/>
<rect x="675" y="99" width="1" height="3" fill="#F4A460"/>
<rect x="675" y="105" width="1" height="3" fill="#F4A460"/>
<rect x="675" y="111" width="1" height="3" fill="#F4A460"/>
<rect x="675" y="117" width="1" height="3" fill="#F4A460"/>
<rect x="675" y="123" width="1" height="3" fill="#F4A460"/>
<rect x="675" y="129" width="1" height="3" fill="#F4A460"/>
<rect x="675" y="135" width="1" height="3" fill="#F4A460"/>
<rect x="675" y="141" width="1" height="3" fill="#F4A460"/>
<rect x="675" y="147" width="1" height="3" fill="#F4A460"/>
<rect x="675" y="153" width="1" height="3" fill="#F4A460"/>
<rect x="675" y="159" width="1" height="3" fill="#F4A460"/>
<rect x="675" y="165" width="1" height="3" fill="#F4A460"/>
<rect x="675" y="171" width="1" height="3" fill="#F4A460"/>
<rect x="675" y="177" width="1" height="3" fill="#F4A460"/>
<polyline points="3.5,297.5 7.5,297.5 11.5,297.5 15.5,297.5 19.5,297.5 23.5,295.5 27.5,294.5 31.5,296.5 35.5,296.5 39.5,297.5 43.5,302.5 47.5,306.5 51.5,311.5 55.5,312.5 59.5,313.5 63.5,314.5 67.5,315.5 71.5,315.5 75.5,316.5 79.5,316.5 83.5,316.5 87.5,316.5 91.5,316.5 95.5,316.5 99.5,316.5 103.5,315.5 107.5,315.5 111.5,315.5 115.5,313.5 119.5,314.5 123.5,315.5 127.5,316.5 131.5,316.5 135.5,317.5 139.5,318.5 143.5,319.5 147.5,319.5 151.5,319.5 155.5,319.5 159.5,319.5 163.5,320.5 167.5,322.5 171.5,322.5 175.5,321.5 179.5,319.5 183.5,319.5 187.5,320.5 191.5,321.5 195.5,321.5 199.5,321.5 203.5,321.5 207.5,321.5 211.5,323.5 215.5,324.5 219.5,324.5 223.5,323.5 227.5,321.5 231.5,321.5 235.5,321.5 239.5,321.5 243.5,323.5 247.5,324.5 251.5,324.5 255.5,324.5 259.5,324.5 263.5,324.5 267.5,323.5 271.5,321.5 275.5,318.5 279.5,316.5 283.5,316.5 287.5,316.5 291.5,315.5 295.5,312.5 299.5,309.5 303.5,309.5 307.5,306.5 311.5,306.5 315.5,304.5 319.5,301.5 323.5,286.5 327.5,282.5 331.5,278.5 335.5,278.5 339.5,270.5 343.5,267.5 347.5,259.5 351.5,258.5 355.5,255.5 359.5,254.5 363.5,250.5 367.5,246.5 371.5,241.5 375.5,241.5 379.5,241.5 383.5,241.5 387.5,237.5 391.5,236.5 395.5,236.5 399.5,236.5 403.5,236.5 407.5,236.5 411.5,236.5 415.5,232.5 419.5,229.5 423.5,229.5 427.5,229.5 431.5,228.5 435.5,226.5 439.5,226.5 443.5,226.5 447.5,226.5 451.5,226.5 455.5,227.5 459.5,231.5 463.5,232.5 467.5,232.5 471.5,231.5 475.5,231.5 479.5,232.5 483.5,235.5 487.5,238.5 491.5,238.5 495.5,238.5 499.5,238.5 503.5,239.5 507.5,243.5 511.5,247.5 515.5,247.5 519.5,247.5 523.5,247.5 527.5,247.5 531.5,234.5 535.5,216.5 539.5,213.5 543.5,202.5 547.5,200.5 551.5,199.5 555.5,185.5 559.5,174.5 563.5,172.5 567.5,172.5 571.5,172.5 575.5,171.5 579.5,162.5 583.5,157.5 587.5,151.5 591.5,147.5 595.5,142.5 599.5,141.5 603.5,141.5 607.5,132.5 611.5,129.5 615.5,103.5 619.5,102.5 623.5,102.5 627.5,93.5 631.5,86.5 635.5,80.5 639.5,76.5 643.5,75.5 647.5,75.5 651.5,70.5 655.5,69.5 659.5,66.5 663.5,66.5 667.5,66.5 671.5,66.5 675.5,63.5" fill="none" stroke="#F4A460" stroke-width="1" stroke-dasharray="3 3"/>
<polyline points="3.5,358.5 7.5,358.5 11.5,358.5 15.5,356.5 19.5,355.5 23.5,354.5 27.5,354.5 31.5,354.5 35.5,353.5 39.5,353.5 43.5,350.5 47.5,346.5 51.5,339.5 55.5,339.5 59.5,339.5 63.5,338.5 67.5,338.5 71.5,338.5 75.5,338.5 79.5,338.5 83.5,338.5 87.5,336.5 91.5,330.5 95.5,329.5 99.5,329.5 103.5,328.5 107.5,328.5 111.5,328.5 115.5,327.5 119.5,326.5 123.5,325.5 127.5,324.5 131.5,323.5 135.5,320.5 139.5,318.5 143.5,318.5 147.5,318.5 151.5,318.5 155.5,318.5 159.5,318.5 163.5,318.5 167.5,318.5 171.5,318.5 175.5,318.5 179.5,316.5 183.5,316.5 187.5,316.5 191.5,316.5 195.5,316.5 199.5,316.5 203.5,316.5 207.5,316.5 211.5,316.5 215.5,316.5 219.5,316.5 223.5,316.5 227.5,316.5 231.5,316.5 235.5,316.5 239.5,316.5 243.5,316.5 247.5,316.5 251.5,316.5 255.5,316.5 259.5,316.5 263.5,316.5 267.5,316.5 271.5,316.5 275.5,316.5 279.5,316.5 283.5,316.5 287.5,316.5 291.5,310.5 295.5,298.5 299.5,294.5 303.5,294.5 307.5,294.5 311.5,294.5 315.5,294.5 319.5,294.5 323.5,294.5 327.5,294.5 331.5,294.5 335.5,294.5 339.5,291.5 343.5,287.5 347.5,282.5 351.5,281.5 355.5,280.5 359.5,279.5 363.5,278.5 367.5,278.5 371.5,278.5 375.5,278.5 379.5,278.5 383.5,278.5 387.5,278.5 391.5,278.5 395.5,278.5 399.5,278.5 403.5,278.5 407.5,278.5 411.5,278.5 415.5,278.5 419.5,278.5 423.5,278.5 427.5,278.5 431.5,278.5 435.5,278.5 439.5,278.5 443.5,278.5 447.5,278.5 451.5,278.5 455.5,278.5 459.5,278.5 463.5,278.5 467.5,278.5 471.5,278.5 475.5,278.5 479.5,278.5 483.5,278.5 487.5,278.5 491.5,278.5 495.5,278.5 499.5,278.5 503.5,278.5 507.5,278.5 511.5,278.5 515.5,278.5 519.5,278.5 523.5,278.5 527.5,278.5 531.5,275.5 535.5,259.5 539.5,254.5 543.5,245.5 547.5,242.5 551.5,239.5 555.5,227.5 559.5,223.5 563.5,223.5 567.5,223.5 571.5,223.5 575.5,223.5 579.5,223.5 583.5,223.5 587.5,223.5 591.5,223.5 595.5,220.5 599.5,219.5 603.5,218.5 607.5,215.5 611.5,209.5 615.5,185.5 619.5,183.5 623.5,183.5 627.5,183.5 631.5,183.5 635.5,183.5 639.5,183.5 643.5,183.5 647.5,183.5 651.5,182.5 655.5,182.5 659.5,182.5 663.5,182.5 667.5,182.5 671.5,182.5 675.5,182.5" fill="none" stroke="#D8BFD8" stroke-width="1" stroke-dasharray="3 3"/>
<polyline points="3.5,316.5 7.5,314.5 11.5,314.5 15.5,314.5 19.5,310.5 23.5,312.5 27.5,314.5 31.5,316.5 35.5,316.5 39.5,317.5 43.5,319.5 47.5,321.5 51.5,321.5 55.5,321.5 59.5,321.5 63.5,321.5 67.5,323.5 71.5,327.5 75.5,328.5 79.5,325.5 83.5,321.5 87.5,321.5 91.5,321.5 95.5,321.5 99.5,321.5 103.5,321.5 107.5,321.5 111.5,321.5 115.5,321.5 119.5,321.5 123.5,321.5 127.5,321.5 131.5,321.5 135.5,321.5 139.5,321.5 143.5,321.5 147.5,326.5 151.5,326.5 155.5,326.5 159.5,326.5 163.5,326.5 167.5,326.5 171.5,324.5 175.5,321.5 179.5,317.5 183.5,314.5 187.5,314.5 191.5,314.5 195.5,314.5 199.5,310.5 203.5,308.5 207.5,306.5 211.5,302.5 215.5,301.5 219.5,301.5 223.5,297.5 227.5,281.5 231.5,277.5 235.5,272.5 239.5,272.5 243.5,261.5 247.5,258.5 251.5,248.5 255.5,248.5 259.5,247.5 263.5,246.5 267.5,241.5 271.5,234.5 275.5,227.5 279.5,227.5 283.5,227.5 287.5,227.5 291.5,227.5 295.5,227.5 299.5,227.5 303.5,227.5 307.5,227.5 311.5,227.5 315.5,233.5 319.5,233.5 323.5,230.5 327.5,230.5 331.5,230.5 335.5,228.5 339.5,226.5 343.5,226.5 347.5,226.5 351.5,226.5 355.5,226.5 359.5,226.5 363.5,230.5 367.5,230.5 371.5,232.5 375.5,232.5 379.5,232.5 383.5,232.5 387.5,236.5 391.5,238.5 395.5,238.5 399.5,238.5 403.5,238.5 407.5,240.5 411.5,245.5 415.5,250.5 419.5,250.5 423.5,250.5 427.5,250.5 431.5,249.5 435.5,234.5 439.5,216.5 443.5,213.5 447.5,202.5 451.5,200.5 455.5,199.5 459.5,185.5 463.5,166.5 467.5,163.5 471.5,162.5 475.5,161.5 479.5,161.5 483.5,141.5 487.5,132.5 491.5,121.5 495.5,113.5 499.5,106.5 503.5,105.5 507.5,104.5 511.5,102.5 515.5,101.5 519.5,75.5 523.5,75.5 527.5,75.5 531.5,75.5 535.5,72.5 539.5,72.5 543.5,72.5 547.5,72.5 551.5,72.5 555.5,66.5 559.5,63.5 563.5,58.5 567.5,58.5 571.5,58.5 575.5,58.5 578.6,52.5" fill="none" stroke="#FF0000" stroke-width="1" />
<polyline points="3.5,316.5 7.5,316.5 11.5,316.5 15.5,316.5 19.5,316.5 23.5,316.5 27.5,316.5 31.5,316.5 35.5,316.5 39.5,316.5 43.5,316.5 47.5,316.5 51.5,316.5 55.5,316.5 59.5,316.5 63.5,316.5 67.5,316.5 71.5,316.5 75.5,316.5 79.5,316.5 83.5,316.5 87.5,316.5 91.5,319.5 95.5,321.5 99.5,321.5 103.5,321.5 107.5,321.5 111.5,321.5 115.5,326.5 119.5,328.5 123.5,328.5 127.5,325.5 131.5,322.5 135.5,321.5 139.5,321.5 143.5,321.5 147.5,321.5 151.5,321.5 155.5,321.5 159.5,321.5 163.5,321.5 167.5,321.5 171.5,321.5 175.5,320.5 179.5,319.5 183.5,318.5 187.5,318.5 191.5,318.5 195.5,317.5 199.5,314.5 203.5,311.5 207.5,311.5 211.5,311.5 215.5,311.5 219.5,308.5 223.5,306.5 227.5,292.5 231.5,288.5 235.5,284.5 239.5,284.5 243.5,279.5 247.5,277.5 251.5,270.5 255.5,268.5 259.5,262.5 263.5,262.5 267.5,259.5 271.5,257.5 275.5,256.5 279.5,255.5 283.5,254.5 287.5,254.5 291.5,247.5 295.5,245.5 299.5,245.5 303.5,245.5 307.5,245.5 311.5,245.5 315.5,240.5 319.5,232.5 323.5,228.5 327.5,227.5 331.5,227.5 335.5,227.5 339.5,227.5 343.5,227.5 347.5,227.5 351.5,227.5 355.5,227.5 359.5,227.5 363.5,233.5 367.5,233.5 371.5,232.5 375.5,231.5 379.5,231.5 383.5,232.5 387.5,235.5 391.5,237.5 395.5,238.5 399.5,238.5 403.5,238.5 407.5,238.5 411.5,241.5 415.5,244.5 419.5,244.5 423.5,244.5 427.5,244.5 431.5,244.5 435.5,234.5 439.5,216.5 443.5,213.5 447.5,202.5 451.5,200.5 455.5,199.5 459.5,185.5 463.5,182.5 467.5,182.5 471.5,182.5 475.5,182.5 479.5,182.5 483.5,182.5 487.5,182.5 491.5,182.5 495.5,182.5 499.5,177.5 503.5,177.5 507.5,177.5 511.5,162.5 515.5,156.5 519.5,130.5 523.5,129.5 527.5,129.5 531.5,110.5 535.5,100.5 539.5,88.5 543.5,80.5 547.5,78.5 551.5,78.5 555.5,74.5 559.5,74.5 563.5,74.5 567.5,74.5 571.5,74.5 575.5,74.5 578.6,74.5" fill="none" stroke="#0000FF" stroke-width="1" />
<polyline points="3.5,311.5 7.5,321.5 11.5,328.5 15.5,327.5 19.5,319.5 23.5,334.5 27.5,323.5 31.5,316.5 35.5,322.5 39.5,317.5 43.5,313.5 47.5,317.5 51.5,320.5 55.5,327.5 59.5,328.5 63.5,335.5 67.5,318.5 71.5,323.5 75.5,320.5 79.5,319.5 83.5,302.5 87.5,298.5 91.5,310.5 95.5,311.5 99.5,299.5 103.5,287.5 107.5,283.5 111.5,289.5 115.5,283.5 119.5,286.5 123.5,282.5 127.5,276.5 131.5,254.5 135.5,242.5 139.5,244.5 143.5,242.5 147.5,230.5 151.5,225.5 155.5,211.5 159.5,209.5 163.5,201.5 167.5,199.5 171.5,211.5 175.5,223.5 179.5,242.5 183.5,248.5 187.5,250.5 191.5,247.5 195.5,232.5 199.5,238.5 203.5,231.5 207.5,229.5 211.5,225.5 215.5,218.5 219.5,240.5 223.5,220.5 227.5,222.5 231.5,223.5 235.5,213.5 239.5,227.5 243.5,241.5 247.5,233.5 251.5,224.5 255.5,219.5 259.5,217.5 263.5,216.5 267.5,240.5 271.5,247.5 275.5,241.5 279.5,234.5 283.5,237.5 287.5,246.5 291.5,257.5 295.5,241.5 299.5,247.5 303.5,253.5 307.5,248.5 311.5,256.5 315.5,263.5 319.5,242.5 323.5,231.5 327.5,236.5 331.5,230.5 335.5,234.5 339.5,196.5 343.5,172.5 347.5,154.5 351.5,136.5 355.5,128.5 359.5,125.5 363.5,102.5 367.5,98.5 371.5,92.5 375.5,102.5 379.5,97.5 383.5,104.5 387.5,116.5 391.5,116.5 395.5,112.5 399.5,102.5 403.5,89.5 407.5,111.5 411.5,100.5 415.5,102.5 419.5,71.5 423.5,82.5 427.5,88.5 431.5,79.5 435.5,74.5 439.5,63.5 443.5,56.5 447.5,48.5 451.5,46.5 455.5,41.5 459.5,37.5 463.5,66.5 467.5,66.5 471.5,76.5 475.5,65.5 479.5,62.5 482.6,64.5" fill="none" stroke="#00FF00" stroke-width="1" />
<rect x="3" y="284" width="1" height="20" fill="#008080"/>
<rect x="2" y="284" width="3" height="19" fill="#008080"/>
<rect x="7" y="283" width="1" height="11" fill="#DC143C"/>
<rect x="6" y="291" width="3" height="1" fill="#DC143C"/>
<rect x="11" y="287" width="1" height="11" fill="#008080"/>
<rect x="10" y="287" width="3" height="7" fill="#008080"/>
<rect x="15" y="283" width="1" height="10" fill="#008080"/>
<rect x="14" y="286" width="3" height="2" fill="#008080"/>
<rect x="19" y="283" width="1" height="17" fill="#DC143C"/>
<rect x="18" y="286" width="3" height="7" fill="#DC143C"/>
<rect x="23" y="292" width="1" height="58" fill="#DC143C"/>
<rect x="22" y="292" width="3" height="55" fill="#DC143C"/>
<rect x="27" y="339" width="1" height="20" fill="#DC143C"/>
<rect x="26" y="346" width="3" height="4" fill="#DC143C"/>
<rect x="31" y="344" width="1" height="17" fill="#008080"/>
<rect x="30" y="346" width="3" height="4" fill="#008080"/>
<rect x="35" y="342" width="1" height="17" fill="#008080"/>
<rect x="34" y="343" width="3" height="12" fill="#008080"/>
<rect x="39" y="338" width="1" height="7" fill="#008080"/>
<rect x="38" y="338" width="3" height="6" fill="#008080"/>
<rect x="43" y="327" width="1" height="13" fill="#008080"/>
<rect x="42" y="334" width="3" height="6" fill="#008080"/>
<rect x="47" y="305" width="1" height="39" fill="#008080"/>
<rect x="46" y="309" width="3" height="26" fill="#008080"/>
<rect x="51" y="298" width="1" height="17" fill="#DC143C"/>
<rect x="50" y="309" width="3" height="3" fill="#DC143C"/>
<rect x="55" y="308" width="1" height="11" fill="#DC143C"/>
<rect x="54" y="310" width="3" height="7" fill="#DC143C"/>
<rect x="59" y="313" width="1" height="15" fill="#DC143C"/>
<rect x="58" y="316" width="3" height="8" fill="#DC143C"/>
<rect x="63" y="315" width="1" height="10" fill="#008080"/>
<rect x="62" y="317" width="3" height="6" fill="#008080"/>
<rect x="67" y="306" width="1" height="22" fill="#DC143C"/>
<rect x="66" y="317" width="3" height="7" fill="#DC143C"/>
<rect x="71" y="315" width="1" height="26" fill="#DC143C"/>
<rect x="70" y="323" width="3" height="13" fill="#DC143C"/>
<rect x="75" y="322" width="1" height="23" fill="#008080"/>
<rect x="74" y="323" width="3" height="13" fill="#008080"/>
<rect x="79" y="313" width="1" height="13" fill="#008080"/>
<rect x="78" y="316" width="3" height="9" fill="#008080"/>
<rect x="83" y="306" width="1" height="11" fill="#008080"/>
<rect x="82" y="309" width="3" height="7" fill="#008080"/>
<rect x="87" y="308" width="1" height="8" fill="#DC143C"/>
<rect x="86" y="309" width="3" height="5" fill="#DC143C"/>
<rect x="91" y="307" width="1" height="12" fill="#008080"/>
<rect x="90" y="312" width="3" height="2" fill="#008080"/>
<rect x="95" y="298" width="1" height="18" fill="#008080"/>
<rect x="94" y="304" width="3" height="8" fill="#008080"/>
<rect x="99" y="296" width="1" height="20" fill="#DC143C"/>
<rect x="98" y="304" width="3" height="7" fill="#DC143C"/>
<rect x="103" y="306" width="1" height="17" fill="#DC143C"/>
<rect x="102" y="310" width="3" height="11" fill="#DC143C"/>
<rect x="107" y="319" width="1" height="13" fill="#DC143C"/>
<rect x="106" y="321" width="3" height="7" fill="#DC143C"/>
<rect x="111" y="324" width="1" height="6" fill="#008080"/>
<rect x="110" y="327" width="3" height="1" fill="#008080"/>
<rect x="115" y="315" width="1" height="18" fill="#008080"/>
<rect x="114" y="319" width="3" height="9" fill="#008080"/>
<rect x="119" y="315" width="1" height="25" fill="#DC143C"/>
<rect x="118" y="319" width="3" height="15" fill="#DC143C"/>
<rect x="123" y="322" width="1" height="22" fill="#008080"/>
<rect x="122" y="323" width="3" height="11" fill="#008080"/>
<rect x="127" y="314" width="1" height="10" fill="#008080"/>
<rect x="126" y="316" width="3" height="7" fill="#008080"/>
<rect x="131" y="315" width="1" height="8" fill="#DC143C"/>
<rect x="130" y="316" width="3" height="6" fill="#DC143C"/>
<rect x="135" y="316" width="1" height="7" fill="#008080"/>
<rect x="134" y="317" width="3" height="4" fill="#008080"/>
<rect x="139" y="310" width="1" height="20" fill="#008080"/>
<rect x="138" y="313" width="3" height="5" fill="#008080"/>
<rect x="143" y="310" width="1" height="16" fill="#DC143C"/>
<rect x="142" y="313" width="3" height="4" fill="#DC143C"/>
<rect x="147" y="313" width="1" height="16" fill="#DC143C"/>
<rect x="146" y="316" width="3" height="4" fill="#DC143C"/>
<rect x="151" y="316" width="1" height="21" fill="#DC143C"/>
<rect x="150" y="317" width="3" height="10" fill="#DC143C"/>
<rect x="155" y="320" width="1" height="9" fill="#DC143C"/>
<rect x="154" y="321" width="3" height="7" fill="#DC143C"/>
<rect x="159" y="326" width="1" height="10" fill="#DC143C"/>
<rect x="158" y="327" width="3" height="8" fill="#DC143C"/>
<rect x="163" y="318" width="1" height="17" fill="#008080"/>
<rect x="162" y="318" width="3" height="17" fill="#008080"/>
<rect x="167" y="313" width="1" height="11" fill="#DC143C"/>
<rect x="166" y="318" width="3" height="5" fill="#DC143C"/>
<rect x="171" y="320" width="1" height="4" fill="#008080"/>
<rect x="170" y="320" width="3" height="3" fill="#008080"/>
<rect x="175" y="318" width="1" height="7" fill="#008080"/>
<rect x="174" y="319" width="3" height="2" fill="#008080"/>
<rect x="179" y="300" width="1" height="20" fill="#008080"/>
<rect x="178" y="302" width="3" height="18" fill="#008080"/>
<rect x="183" y="292" width="1" height="18" fill="#008080"/>
<rect x="182" y="298" width="3" height="6" fill="#008080"/>
<rect x="187" y="297" width="1" height="17" fill="#DC143C"/>
<rect x="186" y="298" width="3" height="12" fill="#DC143C"/>
<rect x="191" y="305" width="1" height="9" fill="#DC143C"/>
<rect x="190" y="309" width="3" height="2" fill="#DC143C"/>
<rect x="195" y="298" width="1" height="14" fill="#008080"/>
<rect x="194" y="299" width="3" height="12" fill="#008080"/>
<rect x="199" y="286" width="1" height="15" fill="#008080"/>
<rect x="198" y="287" width="3" height="13" fill="#008080"/>
<rect x="203" y="278" width="1" height="11" fill="#008080"/>
<rect x="202" y="283" width="3" height="4" fill="#008080"/>
<rect x="207" y="278" width="1" height="15" fill="#DC143C"/>
<rect x="206" y="283" width="3" height="6" fill="#DC143C"/>
<rect x="211" y="278" width="1" height="13" fill="#008080"/>
<rect x="210" y="283" width="3" height="6" fill="#008080"/>
<rect x="215" y="279" width="1" height="9" fill="#DC143C"/>
<rect x="214" y="283" width="3" height="3" fill="#DC143C"/>
<rect x="219" y="279" width="1" height="17" fill="#008080"/>
<rect x="218" y="282" width="3" height="4" fill="#008080"/>
<rect x="223" y="275" width="1" height="11" fill="#008080"/>
<rect x="222" y="276" width="3" height="7" fill="#008080"/>
<rect x="227" y="248" width="1" height="29" fill="#008080"/>
<rect x="226" y="254" width="3" height="23" fill="#008080"/>
<rect x="231" y="241" width="1" height="20" fill="#008080"/>
<rect x="230" y="242" width="3" height="13" fill="#008080"/>
<rect x="235" y="232" width="1" height="18" fill="#DC143C"/>
<rect x="234" y="242" width="3" height="2" fill="#DC143C"/>
<rect x="239" y="241" width="1" height="5" fill="#008080"/>
<rect x="238" y="242" width="3" height="2" fill="#008080"/>
<rect x="243" y="219" width="1" height="27" fill="#008080"/>
<rect x="242" y="230" width="3" height="15" fill="#008080"/>
<rect x="247" y="220" width="1" height="15" fill="#008080"/>
<rect x="246" y="225" width="3" height="6" fill="#008080"/>
<rect x="251" y="202" width="1" height="32" fill="#008080"/>
<rect x="250" y="211" width="3" height="15" fill="#008080"/>
<rect x="255" y="202" width="1" height="11" fill="#008080"/>
<rect x="254" y="209" width="3" height="3" fill="#008080"/>
<rect x="259" y="200" width="1" height="11" fill="#008080"/>
<rect x="258" y="201" width="3" height="9" fill="#008080"/>
<rect x="263" y="198" width="1" height="10" fill="#008080"/>
<rect x="262" y="199" width="3" height="3" fill="#008080"/>
<rect x="267" y="196" width="1" height="17" fill="#DC143C"/>
<rect x="266" y="199" width="3" height="12" fill="#DC143C"/>
<rect x="271" y="206" width="1" height="22" fill="#DC143C"/>
<rect x="270" y="210" width="3" height="13" fill="#DC143C"/>
<rect x="275" y="222" width="1" height="36" fill="#DC143C"/>
<rect x="274" y="222" width="3" height="20" fill="#DC143C"/>
<rect x="279" y="241" width="1" height="14" fill="#DC143C"/>
<rect x="278" y="241" width="3" height="7" fill="#DC143C"/>
<rect x="283" y="247" width="1" height="6" fill="#DC143C"/>
<rect x="282" y="248" width="3" height="2" fill="#DC143C"/>
<rect x="287" y="243" width="1" height="7" fill="#008080"/>
<rect x="286" y="247" width="3" height="3" fill="#008080"/>
<rect x="291" y="229" width="1" height="20" fill="#008080"/>
<rect x="290" y="232" width="3" height="16" fill="#008080"/>
<rect x="295" y="224" width="1" height="14" fill="#DC143C"/>
<rect x="294" y="232" width="3" height="6" fill="#DC143C"/>
<rect x="299" y="224" width="1" height="16" fill="#008080"/>
<rect x="298" y="231" width="3" height="7" fill="#008080"/>
<rect x="303" y="225" width="1" height="11" fill="#008080"/>
<rect x="302" y="229" width="3" height="3" fill="#008080"/>
<rect x="307" y="220" width="1" height="13" fill="#008080"/>
<rect x="306" y="225" width="3" height="5" fill="#008080"/>
<rect x="311" y="216" width="1" height="11" fill="#008080"/>
<rect x="310" y="218" width="3" height="8" fill="#008080"/>
<rect x="315" y="214" width="1" height="30" fill="#DC143C"/>
<rect x="314" y="218" width="3" height="22" fill="#DC143C"/>
<rect x="319" y="212" width="1" height="29" fill="#008080"/>
<rect x="318" y="220" width="3" height="21" fill="#008080"/>
<rect x="323" y="217" width="1" height="18" fill="#DC143C"/>
<rect x="322" y="220" width="3" height="2" fill="#DC143C"/>
<rect x="327" y="217" width="1" height="7" fill="#DC143C"/>
<rect x="326" y="221" width="3" height="2" fill="#DC143C"/>
<rect x="331" y="210" width="1" height="15" fill="#008080"/>
<rect x="330" y="213" width="3" height="11" fill="#008080"/>
<rect x="335" y="211" width="1" height="17" fill="#DC143C"/>
<rect x="334" y="213" width="3" height="14" fill="#DC143C"/>
<rect x="339" y="224" width="1" height="19" fill="#DC143C"/>
<rect x="338" y="226" width="3" height="15" fill="#DC143C"/>
<rect x="343" y="226" width="1" height="18" fill="#008080"/>
<rect x="342" y="233" width="3" height="8" fill="#008080"/>
<rect x="347" y="210" width="1" height="25" fill="#008080"/>
<rect x="346" y="224" width="3" height="10" fill="#008080"/>
<rect x="351" y="218" width="1" height="8" fill="#008080"/>
<rect x="350" y="219" width="3" height="7" fill="#008080"/>
<rect x="355" y="217" width="1" height="9" fill="#008080"/>
<rect x="354" y="217" width="3" height="4" fill="#008080"/>
<rect x="359" y="212" width="1" height="7" fill="#008080"/>
<rect x="358" y="216" width="3" height="2" fill="#008080"/>
<rect x="363" y="215" width="1" height="34" fill="#DC143C"/>
<rect x="362" y="216" width="3" height="24" fill="#DC143C"/>
<rect x="367" y="236" width="1" height="14" fill="#DC143C"/>
<rect x="366" y="239" width="3" height="8" fill="#DC143C"/>
<rect x="371" y="238" width="1" height="15" fill="#008080"/>
<rect x="370" y="241" width="3" height="6" fill="#008080"/>
<rect x="375" y="233" width="1" height="12" fill="#008080"/>
<rect x="374" y="234" width="3" height="7" fill="#008080"/>
<rect x="379" y="233" width="1" height="8" fill="#DC143C"/>
<rect x="378" y="233" width="3" height="4" fill="#DC143C"/>
<rect x="383" y="235" width="1" height="12" fill="#DC143C"/>
<rect x="382" y="236" width="3" height="10" fill="#DC143C"/>
<rect x="387" y="237" width="1" height="23" fill="#DC143C"/>
<rect x="386" y="245" width="3" height="12" fill="#DC143C"/>
<rect x="391" y="222" width="1" height="44" fill="#008080"/>
<rect x="390" y="241" width="3" height="16" fill="#008080"/>
<rect x="395" y="234" width="1" height="19" fill="#DC143C"/>
<rect x="394" y="241" width="3" height="6" fill="#DC143C"/>
<rect x="399" y="243" width="1" height="11" fill="#DC143C"/>
<rect x="398" y="246" width="3" height="7" fill="#DC143C"/>
<rect x="403" y="246" width="1" height="10" fill="#008080"/>
<rect x="402" y="248" width="3" height="5" fill="#008080"/>
<rect x="407" y="247" width="1" height="17" fill="#DC143C"/>
<rect x="406" y="248" width="3" height="8" fill="#DC143C"/>
<rect x="411" y="250" width="1" height="20" fill="#DC143C"/>
<rect x="410" y="255" width="3" height="8" fill="#DC143C"/>
<rect x="415" y="242" width="1" height="36" fill="#008080"/>
<rect x="414" y="242" width="3" height="21" fill="#008080"/>
<rect x="419" y="226" width="1" height="18" fill="#008080"/>
<rect x="418" y="231" width="3" height="12" fill="#008080"/>
<rect x="423" y="228" width="1" height="12" fill="#DC143C"/>
<rect x="422" y="231" width="3" height="5" fill="#DC143C"/>
<rect x="427" y="221" width="1" height="18" fill="#008080"/>
<rect x="426" y="230" width="3" height="6" fill="#008080"/>
<rect x="431" y="228" width="1" height="7" fill="#DC143C"/>
<rect x="430" y="231" width="3" height="3" fill="#DC143C"/>
<rect x="435" y="191" width="1" height="43" fill="#008080"/>
<rect x="434" y="196" width="3" height="38" fill="#008080"/>
<rect x="439" y="153" width="1" height="46" fill="#008080"/>
<rect x="438" y="172" width="3" height="24" fill="#008080"/>
<rect x="443" y="150" width="1" height="30" fill="#008080"/>
<rect x="442" y="154" width="3" height="18" fill="#008080"/>
<rect x="447" y="126" width="1" height="30" fill="#008080"/>
<rect x="446" y="136" width="3" height="19" fill="#008080"/>
<rect x="451" y="122" width="1" height="16" fill="#008080"/>
<rect x="450" y="128" width="3" height="7" fill="#008080"/>
<rect x="455" y="120" width="1" height="14" fill="#008080"/>
<rect x="454" y="125" width="3" height="4" fill="#008080"/>
<rect x="459" y="92" width="1" height="42" fill="#008080"/>
<rect x="458" y="102" width="3" height="24" fill="#008080"/>
<rect x="463" y="87" width="1" height="29" fill="#008080"/>
<rect x="462" y="98" width="3" height="5" fill="#008080"/>
<rect x="467" y="88" width="1" height="21" fill="#008080"/>
<rect x="466" y="92" width="3" height="7" fill="#008080"/>
<rect x="471" y="90" width="1" height="13" fill="#DC143C"/>
<rect x="470" y="91" width="3" height="11" fill="#DC143C"/>
<rect x="475" y="95" width="1" height="11" fill="#008080"/>
<rect x="474" y="97" width="3" height="6" fill="#008080"/>
<rect x="479" y="94" width="1" height="12" fill="#DC143C"/>
<rect x="478" y="97" width="3" height="7" fill="#DC143C"/>
<rect x="483" y="95" width="1" height="26" fill="#DC143C"/>
<rect x="482" y="103" width="3" height="13" fill="#DC143C"/>
<rect x="487" y="114" width="1" height="15" fill="#DC143C"/>
<rect x="486" y="115" width="3" height="1" fill="#DC143C"/>
<rect x="491" y="108" width="1" height="17" fill="#008080"/>
<rect x="490" y="112" width="3" height="5" fill="#008080"/>
<rect x="495" y="97" width="1" height="16" fill="#008080"/>
<rect x="494" y="102" width="3" height="11" fill="#008080"/>
<rect x="499" y="78" width="1" height="26" fill="#008080"/>
<rect x="498" y="89" width="3" height="14" fill="#008080"/>
<rect x="503" y="86" width="1" height="28" fill="#DC143C"/>
<rect x="502" y="89" width="3" height="22" fill="#DC143C"/>
<rect x="507" y="99" width="1" height="22" fill="#008080"/>
<rect x="506" y="100" width="3" height="11" fill="#008080"/>
<rect x="511" y="93" width="1" height="18" fill="#DC143C"/>
<rect x="510" y="100" width="3" height="2" fill="#DC143C"/>
<rect x="515" y="71" width="1" height="31" fill="#008080"/>
<rect x="514" y="71" width="3" height="31" fill="#008080"/>
<rect x="519" y="22" width="1" height="64" fill="#DC143C"/>
<rect x="518" y="70" width="3" height="12" fill="#DC143C"/>
<rect x="523" y="75" width="1" height="19" fill="#DC143C"/>
<rect x="522" y="82" width="3" height="6" fill="#DC143C"/>
<rect x="527" y="79" width="1" height="15" fill="#008080"/>
<rect x="526" y="79" width="3" height="9" fill="#008080"/>
<rect x="531" y="72" width="1" height="24" fill="#008080"/>
<rect x="530" y="74" width="3" height="6" fill="#008080"/>
<rect x="535" y="49" width="1" height="33" fill="#008080"/>
<rect x="534" y="63" width="3" height="10" fill="#008080"/>
<rect x="539" y="37" width="1" height="29" fill="#008080"/>
<rect x="538" y="56" width="3" height="10" fill="#008080"/>
<rect x="543" y="44" width="1" height="19" fill="#008080"/>
<rect x="542" y="48" width="3" height="9" fill="#008080"/>
<rect x="547" y="42" width="1" height="10" fill="#008080"/>
<rect x="546" y="46" width="3" height="4" fill="#008080"/>
<rect x="551" y="32" width="1" height="17" fill="#008080"/>
<rect x="550" y="41" width="3" height="6" fill="#008080"/>
<rect x="555" y="21" width="1" height="27" fill="#008080"/>
<rect x="554" y="37" width="3" height="5" fill="#008080"/>
<rect x="559" y="34" width="1" height="36" fill="#DC143C"/>
<rect x="558" y="37" width="3" height="29" fill="#DC143C"/>
<rect x="563" y="53" width="1" height="25" fill="#008080"/>
<rect x="562" y="66" width="3" height="1" fill="#008080"/>
<rect x="567" y="54" width="1" height="22" fill="#DC143C"/>
<rect x="566" y="66" width="3" height="10" fill="#DC143C"/>
<rect x="571" y="46" width="1" height="22" fill="#DC143C"/>
<rect x="570" y="48" width="3" height="17" fill="#DC143C"/>
<rect x="575" y="58" width="1" height="10" fill="#008080"/>
<rect x="574" y="62" width="3" height="3" fill="#008080"/>
<rect x="579" y="60" width="1" height="4" fill="#DC143C"/>
<rect x="578" y="62" width="3" height="2" fill="#DC143C"/>
<line x1="4" y1="411.5" x2="730" y2="411.5" stroke="#808080" stroke-width="1" stroke-dasharray="3 3"/>
<rect x="2" y="403" width="3" height="8" fill="#008080"/>
<rect x="6" y="403" width="3" height="8" fill="#008080"/>
<rect x="10" y="403" width="3" height="8" fill="#008080"/>
<rect x="14" y="404" width="3" height="7" fill="#008080"/>
<rect x="18" y="404" width="3" height="7" fill="#008080"/>
<rect x="22" y="409" width="3" height="2" fill="#008080"/>
<rect x="26" y="411" width="3" height="5" fill="#008080"/>
<rect x="30" y="411" width="3" height="9" fill="#008080"/>
<rect x="34" y="411" width="3" height="9" fill="#008080"/>
<rect x="38" y="411" width="3" height="10" fill="#008080"/>
<rect x="42" y="411" width="3" height="8" fill="#008080"/>
<rect x="46" y="411" width="3" height="6" fill="#008080"/>
<rect x="50" y="411" width="3" height="4" fill="#008080"/>
<rect x="54" y="411" width="3" height="3" fill="#008080"/>
<rect x="58" y="411" width="3" height="2" fill="#008080"/>
<rect x="62" y="411" width="3" height="3" fill="#008080"/>
<rect x="66" y="411" width="3" height="3" fill="#008080"/>
<rect x="70" y="411" width="3" height="3" fill="#008080"/>
<rect x="74" y="411" width="3" height="3" fill="#008080"/>
<rect x="78" y="411" width="3" height="3" fill="#008080"/>
<rect x="82" y="411" width="3" height="2" fill="#008080"/>
<rect x="86" y="410" width="3" height="1" fill="#008080"/>
<rect x="90" y="410" width="3" height="1" fill="#008080"/>
<rect x="94" y="409" width="3" height="2" fill="#008080"/>
<rect x="98" y="408" width="3" height="3" fill="#008080"/>
<rect x="102" y="409" width="3" height="2" fill="#008080"/>
<rect x="110" y="411" width="3" height="3" fill="#008080"/>
<rect x="114" y="411" width="3" height="3" fill="#008080"/>
<rect x="118" y="411" width="3" height="4" fill="#008080"/>
<rect x="122" y="411" width="3" height="4" fill="#008080"/>
<rect x="126" y="411" width="3" height="3" fill="#008080"/>
<rect x="130" y="411" width="3" height="3" fill="#008080"/>
<rect x="134" y="411" width="3" height="3" fill="#008080"/>
<rect x="138" y="411" width="3" height="3" fill="#008080"/>
<rect x="142" y="411" width="3" height="2" fill="#008080"/>
<rect x="146" y="410" width="3" height="1" fill="#008080"/>
<rect x="150" y="410" width="3" height="1" fill="#008080"/>
<rect x="154" y="411" width="3" height="3" fill="#008080"/>
<rect x="158" y="411" width="3" height="3" fill="#008080"/>
<rect x="162" y="411" width="3" height="3" fill="#008080"/>
<rect x="166" y="411" width="3" height="2" fill="#008080"/>
<rect x="170" y="411" width="3" height="2" fill="#008080"/>
<rect x="174" y="411" width="3" height="2" fill="#008080"/>
<rect x="178" y="410" width="3" height="1" fill="#008080"/>
<rect x="182" y="408" width="3" height="3" fill="#008080"/>
<rect x="186" y="407" width="3" height="4" fill="#008080"/>
<rect x="190" y="407" width="3" height="4" fill="#008080"/>
<rect x="194" y="408" width="3" height="3" fill="#008080"/>
<rect x="198" y="405" width="3" height="6" fill="#008080"/>
<rect x="202" y="403" width="3" height="8" fill="#008080"/>
<rect x="206" y="402" width="3" height="9" fill="#008080"/>
<rect x="210" y="402" width="3" height="9" fill="#008080"/>
<rect x="214" y="402" width="3" height="9" fill="#008080"/>
<rect x="218" y="402" width="3" height="9" fill="#008080"/>
<rect x="222" y="402" width="3" height="9" fill="#008080"/>
<rect x="226" y="399" width="3" height="12" fill="#008080"/>
<rect x="230" y="396" width="3" height="15" fill="#008080"/>
<rect x="234" y="394" width="3" height="17" fill="#008080"/>
<rect x="238" y="393" width="3" height="18" fill="#008080"/>
<rect x="242" y="391" width="3" height="20" fill="#008080"/>
<rect x="246" y="390" width="3" height="21" fill="#008080"/>
<rect x="250" y="388" width="3" height="23" fill="#008080"/>
<rect x="254" y="387" width="3" height="24" fill="#008080"/>
<rect x="258" y="386" width="3" height="25" fill="#008080"/>
<rect x="262" y="385" width="3" height="26" fill="#008080"/>
<rect x="266" y="386" width="3" height="25" fill="#008080"/>
<rect x="270" y="389" width="3" height="22" fill="#008080"/>
<rect x="274" y="393" width="3" height="18" fill="#008080"/>
<rect x="278" y="397" width="3" height="14" fill="#008080"/>
<rect x="282" y="400" width="3" height="11" fill="#008080"/>
<rect x="286" y="402" width="3" height="9" fill="#008080"/>
<rect x="290" y="402" width="3" height="9" fill="#008080"/>
<rect x="294" y="402" width="3" height="9" fill="#008080"/>
<rect x="298" y="402" width="3" height="9" fill="#008080"/>
<rect x="302" y="402" width="3" height="9" fill="#008080"/>
<rect x="306" y="402" width="3" height="9" fill="#008080"/>
<rect x="310" y="400" width="3" height="11" fill="#008080"/>
<rect x="314" y="400" width="3" height="11" fill="#008080"/>
<rect x="318" y="400" width="3" height="11" fill="#008080"/>
<rect x="322" y="400" width="3" height="11" fill="#008080"/>
<rect x="326" y="400" width="3" height="11" fill="#008080"/>
<rect x="330" y="402" width="3" height="9" fill="#008080"/>
<rect x="334" y="402" width="3" height="9" fill="#008080"/>
<rect x="338" y="404" width="3" height="7" fill="#008080"/>
<rect x="342" y="405" width="3" height="6" fill="#008080"/>
<rect x="346" y="405" width="3" height="6" fill="#008080"/>
<rect x="350" y="404" width="3" height="7" fill="#008080"/>
<rect x="354" y="404" width="3" height="7" fill="#008080"/>
<rect x="358" y="405" width="3" height="6" fill="#008080"/>
<rect x="362" y="406" width="3" height="5" fill="#008080"/>
<rect x="366" y="408" width="3" height="3" fill="#008080"/>
<rect x="370" y="410" width="3" height="1" fill="#008080"/>
<rect x="374" y="410" width="3" height="1" fill="#008080"/>
<rect x="382" y="411" width="3" height="2" fill="#008080"/>
<rect x="386" y="411" width="3" height="3" fill="#008080"/>
<rect x="390" y="411" width="3" height="2" fill="#008080"/>
<rect x="394" y="411" width="3" height="3" fill="#008080"/>
<rect x="398" y="411" width="3" height="4" fill="#008080"/>
<rect x="402" y="411" width="3" height="5" fill="#008080"/>
<rect x="406" y="411" width="3" height="5" fill="#008080"/>
<rect x="410" y="411" width="3" height="7" fill="#008080"/>
<rect x="414" y="411" width="3" height="5" fill="#008080"/>
<rect x="418" y="411" width="3" height="3" fill="#008080"/>
<rect x="422" y="411" width="3" height="2" fill="#008080"/>
<rect x="426" y="410" width="3" height="1" fill="#008080"/>
<rect x="430" y="409" width="3" height="2" fill="#008080"/>
<rect x="434" y="405" width="3" height="6" fill="#008080"/>
<rect x="438" y="399" width="3" height="12" fill="#008080"/>
<rect x="442" y="394" width="3" height="17" fill="#008080"/>
<rect x="446" y="389" width="3" height="22" fill="#008080"/>
<rect x="450" y="384" width="3" height="27" fill="#008080"/>
<rect x="454" y="382" width="3" height="29" fill="#008080"/>
<rect x="458" y="379" width="3" height="32" fill="#008080"/>
<rect x="462" y="376" width="3" height="35" fill="#008080"/>
<rect x="466" y="375" width="3" height="36" fill="#008080"/>
<rect x="470" y="375" width="3" height="36" fill="#008080"/>
<rect x="474" y="376" width="3" height="35" fill="#008080"/>
<rect x="478" y="377" width="3" height="34" fill="#008080"/>
<rect x="482" y="380" width="3" height="31" fill="#008080"/>
<rect x="486" y="383" width="3" height="28" fill="#008080"/>
<rect x="490" y="385" width="3" height="26" fill="#008080"/>
<rect x="494" y="386" width="3" height="25" fill="#008080"/>
<rect x="498" y="385" width="3" height="26" fill="#008080"/>
<rect x="502" y="386" width="3" height="25" fill="#008080"/>
<rect x="506" y="388" width="3" height="23" fill="#008080"/>
<rect x="510" y="389" width="3" height="22" fill="#008080"/>
<rect x="514" y="387" width="3" height="24" fill="#008080"/>
<rect x="518" y="385" width="3" height="26" fill="#008080"/>
<rect x="522" y="387" width="3" height="24" fill="#008080"/>
<rect x="526" y="387" width="3" height="24" fill="#008080"/>
<rect x="530" y="388" width="3" height="23" fill="#008080"/>
<rect x="534" y="387" width="3" height="24" fill="#008080"/>
<rect x="538" y="387" width="3" height="24" fill="#008080"/>
<rect x="542" y="385" width="3" height="26" fill="#008080"/>
<rect x="546" y="384" width="3" height="27" fill="#008080"/>
<rect x="550" y="384" width="3" height="27" fill="#008080"/>
<rect x="554" y="383" width="3" height="28" fill="#008080"/>
<rect x="558" y="387" width="3" height="24" fill="#008080"/>
<rect x="562" y="390" width="3" height="21" fill="#008080"/>
<rect x="566" y="393" width="3" height="18" fill="#008080"/>
<rect x="570" y="394" width="3" height="17" fill="#008080"/>
<rect x="574" y="395" width="3" height="16" fill="#008080"/>
<rect x="578" y="396" width="3" height="15" fill="#008080"/>
<polyline points="3.5,405.6 7.5,404.4 11.5,403.6 15.5,403.6 19.5,403.6 23.5,404.0 27.5,407.3 31.5,409.7 35.5,413.4 39.5,417.2 43.5,418.0 47.5,418.0 51.5,417.7 55.5,416.0 59.5,414.4 63.5,413.4 67.5,412.7 71.5,412.5 75.5,412.4 79.5,412.2 83.5,412.0 87.5,411.7 91.5,410.6 95.5,409.4 99.5,408.9 103.5,408.6 107.5,409.4 111.5,410.2 115.5,410.9 119.5,411.7 123.5,412.2 127.5,412.5 131.5,412.4 135.5,412.3 139.5,412.2 143.5,412.1 147.5,412.0 151.5,411.0 155.5,411.7 159.5,411.7 163.5,411.7 167.5,411.7 171.5,411.7 175.5,411.7 179.5,411.7 183.5,411.0 187.5,410.0 191.5,409.3 195.5,408.0 199.5,406.8 203.5,405.4 207.5,404.3 211.5,403.5 215.5,402.6 219.5,402.1 223.5,401.8 227.5,401.0 231.5,399.3 235.5,397.7 239.5,396.5 243.5,394.8 247.5,393.1 251.5,391.9 255.5,390.2 259.5,388.9 263.5,387.7 267.5,386.9 271.5,387.2 275.5,388.2 279.5,390.2 283.5,393.2 287.5,396.5 291.5,399.3 295.5,401.8 299.5,402.1 303.5,402.1 307.5,402.1 311.5,401.5 315.5,401.1 319.5,401.1 323.5,401.1 327.5,401.5 331.5,401.8 335.5,402.1 339.5,402.6 343.5,403.1 347.5,403.5 351.5,403.8 355.5,404.0 359.5,404.6 363.5,405.1 367.5,406.0 371.5,406.8 375.5,408.0 379.5,409.3 383.5,410.4 387.5,411.0 391.5,411.4 395.5,412.0 399.5,412.6 403.5,413.0 407.5,413.4 411.5,413.9 415.5,414.0 419.5,414.0 423.5,413.9 427.5,413.0 431.5,411.4 435.5,409.7 439.5,407.0 443.5,402.6 447.5,398.2 451.5,393.2 455.5,388.6 459.5,384.4 463.5,381.1 467.5,378.6 471.5,377.2 475.5,376.1 479.5,376.1 483.5,377.3 487.5,379.0 491.5,381.1 495.5,382.8 499.5,384.4 503.5,385.6 507.5,386.6 511.5,386.9 515.5,387.2 519.5,387.2 523.5,387.2 527.5,387.2 531.5,387.2 535.5,387.2 539.5,387.2 543.5,386.9 547.5,386.6 551.5,385.2 555.5,384.4 559.5,384.9 563.5,386.1 567.5,387.7 571.5,389.4 575.5,391.5 579.5,393.2" fill="none" stroke="#DC143C" stroke-width="2"/>
<line x1="4" y1="440.5" x2="730" y2="440.5" stroke="#006400" stroke-width="1" stroke-dasharray="3 3"/>
<line x1="4" y1="459.5" x2="730" y2="459.5" stroke="#006400" stroke-width="1" stroke-dasharray="3 3"/>
<polyline points="3.5,445.2 7.5,445.0 11.5,445.0 15.5,445.2 19.5,445.9 23.5,455.5 27.5,455.8 31.5,455.5 35.5,454.3 39.5,453.5 43.5,452.5 47.5,448.5 51.5,448.5 55.5,449.7 59.5,449.7 63.5,449.7 67.5,450.2 71.5,453.0 75.5,450.2 79.5,449.7 83.5,448.0 87.5,448.0 91.5,448.0 95.5,446.8 99.5,448.5 103.5,450.5 107.5,451.8 111.5,451.8 115.5,450.8 119.5,453.0 123.5,450.2 127.5,450.2 131.5,450.2 135.5,449.2 139.5,448.8 143.5,448.8 147.5,449.2 151.5,451.3 155.5,452.5 159.5,453.0 163.5,449.7 167.5,449.7 171.5,449.7 175.5,449.7 179.5,445.2 183.5,445.2 187.5,448.0 191.5,448.0 195.5,445.2 199.5,443.0 203.5,443.0 207.5,443.9 211.5,443.9 215.5,443.9 219.5,443.5 223.5,442.5 227.5,438.1 231.5,437.2 235.5,436.9 239.5,436.9 243.5,436.0 247.5,435.3 251.5,434.3 255.5,433.9 259.5,433.6 263.5,432.6 267.5,437.2 271.5,443.0 275.5,448.0 279.5,448.8 283.5,449.2 287.5,448.8 291.5,445.9 295.5,445.9 299.5,445.5 303.5,444.7 307.5,444.2 311.5,443.9 315.5,449.2 319.5,445.2 323.5,444.7 327.5,444.7 331.5,444.7 335.5,447.2 339.5,449.7 343.5,449.7 347.5,447.2 351.5,446.4 355.5,445.9 359.5,445.9 363.5,451.8 367.5,451.8 371.5,451.3 375.5,450.2 379.5,450.2 383.5,452.5 387.5,454.1 391.5,451.3 395.5,450.8 399.5,453.0 403.5,453.0 407.5,453.8 411.5,453.8 415.5,449.7 419.5,448.0 423.5,448.0 427.5,448.0 431.5,448.0 435.5,442.2 439.5,439.2 443.5,437.6 447.5,435.9 451.5,435.6 455.5,435.3 459.5,434.3 463.5,433.9 467.5,434.3 471.5,435.9 475.5,435.9 479.5,436.9 483.5,440.6 487.5,440.6 491.5,440.6 495.5,439.2 499.5,438.9 503.5,442.5 507.5,442.5 511.5,441.9 515.5,440.2 519.5,441.4 523.5,441.9 527.5,441.9 531.5,441.9 535.5,440.2 539.5,439.2 543.5,438.6 547.5,437.6 551.5,437.6 555.5,436.9 559.5,444.7 563.5,445.2 567.5,446.8 571.5,445.2 575.5,444.7 579.5,444.7" fill="none" stroke="#008080" stroke-width="2"/>
<rect x="2" y="2" width="729" height="1" fill="#000"/>
<rect x="2" y="2" width="1" height="368" fill="#000"/>
<rect x="730" y="2" width="1" height="368" fill="#000"/>
<rect x="2" y="371" width="1" height="52" fill="#000"/>
<rect x="730" y="371" width="1" height="52" fill="#000"/>
<rect x="2" y="424" width="1" height="51" fill="#000"/>
<rect x="730" y="424" width="1" height="51" fill="#000"/>
<rect x="2" y="369" width="729" height="1" fill="#000"/>
<rect x="2" y="371" width="729" height="1" fill="#000"/>
<rect x="2" y="422" width="729" height="1" fill="#000"/>
<rect x="2" y="424" width="729" height="1" fill="#000"/>
<rect x="2" y="474" width="729" height="1" fill="#000"/>
<rect x="0" y="0" width="2" height="495" fill="#fff"/>
<rect x="731" y="36" width="2" height="1" fill="#000"/>
<rect x="731" y="69" width="2" height="1" fill="#000"/>
<rect x="731" y="102" width="2" height="1" fill="#000"/>
<rect x="731" y="135" width="2" height="1" fill="#000"/>
<rect x="731" y="168" width="2" height="1" fill="#000"/>
<rect x="731" y="201" width="2" height="1" fill="#000"/>
<rect x="731" y="234" width="2" height="1" fill="#000"/>
<rect x="731" y="267" width="2" height="1" fill="#000"/>
<rect x="731" y="300" width="2" height="1" fill="#000"/>
<rect x="731" y="333" width="2" height="1" fill="#000"/>
<rect x="731" y="366" width="2" height="1" fill="#000"/>
<rect x="732" y="58" width="41" height="11" fill="#000"/>
<rect x="731" y="373" width="1" height="1" fill="#000"/>
<rect x="731" y="411" width="1" height="1" fill="#000"/>
<rect x="731" y="421" width="1" height="1" fill="#000"/>
<rect x="731" y="426" width="1" height="1" fill="#000"/>
<rect x="731" y="440" width="1" height="1" fill="#000"/>
<rect x="731" y="459" width="1" height="1" fill="#000"/>
<rect x="731" y="472" width="1" height="1" fill="#000"/>
<rect x="3" y="475" width="1" height="3" fill="#000"/>
<rect x="67" y="475" width="1" height="3" fill="#000"/>
<rect x="131" y="475" width="1" height="3" fill="#000"/>
<rect x="195" y="475" width="1" height="3" fill="#000"/>
<rect x="259" y="475" width="1" height="3" fill="#000"/>
<rect x="323" y="475" width="1" height="3" fill="#000"/>
<rect x="387" y="475" width="1" height="3" fill="#000"/>
<rect x="451" y="475" width="1" height="3" fill="#000"/>
<rect x="515" y="475" width="1" height="3" fill="#000"/>
<rect x="579" y="475" width="1" height="3" fill="#000"/>
<text x="18.11" y="14" fill="#000" stroke="#000" stroke-width="0.2" textLength="53.78" lengthAdjust="spacingAndGlyphs">GBPUSD,H4</text>
<text x="78.29" y="14" fill="#000" stroke="#000" stroke-width="0.2" textLength="32.71" lengthAdjust="spacingAndGlyphs">1.38661</text>
<text x="114.34" y="14" fill="#000" stroke="#000" stroke-width="0.2" textLength="32.64" lengthAdjust="spacingAndGlyphs">1.38690</text>
<text x="150.20" y="14" fill="#000" stroke="#000" stroke-width="0.2" textLength="32.05" lengthAdjust="spacingAndGlyphs">1.38643</text>
<text x="186.28" y="14" fill="#000" stroke="#000" stroke-width="0.2" textLength="32.61" lengthAdjust="spacingAndGlyphs">1.38644</text>
<text x="7.25" y="384" fill="#000" stroke="#000" stroke-width="0.2" textLength="60.28" lengthAdjust="spacingAndGlyphs">MACD(5,35,5)</text>
<text x="71.42" y="384" fill="#000" stroke="#000" stroke-width="0.2" textLength="37.32" lengthAdjust="spacingAndGlyphs">0.006619</text>
<text x="112.78" y="384" fill="#000" stroke="#000" stroke-width="0.2" textLength="36.68" lengthAdjust="spacingAndGlyphs">0.007739</text>
<text x="6.53" y="437" fill="#000" stroke="#000" stroke-width="0.2" textLength="32.41" lengthAdjust="spacingAndGlyphs">RSI(14)</text>
<text x="42.05" y="437" fill="#000" stroke="#000" stroke-width="0.2" textLength="32.96" lengthAdjust="spacingAndGlyphs">59.8606</text>
<text x="2.26" y="487" fill="#000" stroke="#000" stroke-width="0.2" textLength="51.35" lengthAdjust="spacingAndGlyphs">14 Dec 2017</text>
<text x="66.26" y="487" fill="#000" stroke="#000" stroke-width="0.2" textLength="54.73" lengthAdjust="spacingAndGlyphs">19 Dec 08:00</text>
<text x="130.45" y="487" fill="#000" stroke="#000" stroke-width="0.2" textLength="54.25" lengthAdjust="spacingAndGlyphs">22 Dec 00:00</text>
<text x="194.09" y="487" fill="#000" stroke="#000" stroke-width="0.2" textLength="55.13" lengthAdjust="spacingAndGlyphs">28 Dec 00:00</text>
<text x="258.00" y="487" fill="#000" stroke="#000" stroke-width="0.2" textLength="47.52" lengthAdjust="spacingAndGlyphs">3 Jan 00:00</text>
<text x="322.01" y="487" fill="#000" stroke="#000" stroke-width="0.2" textLength="47.73" lengthAdjust="spacingAndGlyphs">5 Jan 16:00</text>
<text x="386.25" y="487" fill="#000" stroke="#000" stroke-width="0.2" textLength="52.35" lengthAdjust="spacingAndGlyphs">10 Jan 08:00</text>
<text x="449.91" y="487" fill="#000" stroke="#000" stroke-width="0.2" textLength="53.09" lengthAdjust="spacingAndGlyphs">15 Jan 00:00</text>
<text x="514.25" y="487" fill="#000" stroke="#000" stroke-width="0.2" textLength="52.35" lengthAdjust="spacingAndGlyphs">17 Jan 16:00</text>
<text x="578.09" y="487" fill="#000" stroke="#000" stroke-width="0.2" textLength="52.91" lengthAdjust="spacingAndGlyphs">22 Jan 08:00</text>
<text x="736.19" y="40" fill="#000" stroke="#000" stroke-width="0.2" textLength="32.32" lengthAdjust="spacingAndGlyphs">1.39155</text>
<text x="736.19" y="73" fill="#000" stroke="#000" stroke-width="0.2" textLength="32.32" lengthAdjust="spacingAndGlyphs">1.38525</text>
<rect x="732" y="58" width="41" height="11" fill="#000"/>
<text x="736.19" y="106" fill="#000" stroke="#000" stroke-width="0.2" textLength="32.32" lengthAdjust="spacingAndGlyphs">1.37895</text>
<text x="736.19" y="139" fill="#000" stroke="#000" stroke-width="0.2" textLength="32.32" lengthAdjust="spacingAndGlyphs">1.37265</text>
<text x="736.20" y="172" fill="#000" stroke="#000" stroke-width="0.2" textLength="32.71" lengthAdjust="spacingAndGlyphs">1.36650</text>
<text x="736.20" y="205" fill="#000" stroke="#000" stroke-width="0.2" textLength="32.71" lengthAdjust="spacingAndGlyphs">1.36020</text>
<text x="736.20" y="238" fill="#000" stroke="#000" stroke-width="0.2" textLength="32.71" lengthAdjust="spacingAndGlyphs">1.35390</text>
<text x="736.20" y="271" fill="#000" stroke="#000" stroke-width="0.2" textLength="32.71" lengthAdjust="spacingAndGlyphs">1.34760</text>
<text x="736.19" y="304" fill="#000" stroke="#000" stroke-width="0.2" textLength="32.32" lengthAdjust="spacingAndGlyphs">1.34145</text>
<text x="736.19" y="337" fill="#000" stroke="#000" stroke-width="0.2" textLength="32.32" lengthAdjust="spacingAndGlyphs">1.33515</text>
<text x="736.19" y="370" fill="#000" stroke="#000" stroke-width="0.2" textLength="32.32" lengthAdjust="spacingAndGlyphs">1.32885</text>
<text x="734.18" y="382" fill="#000" stroke="#000" stroke-width="0.2" textLength="37.43" lengthAdjust="spacingAndGlyphs">0.016856</text>
<text x="733.24" y="414" fill="#000" stroke="#000" stroke-width="0.2" textLength="17.73" lengthAdjust="spacingAndGlyphs">0.00</text>
<text x="734.08" y="419" fill="#000" stroke="#000" stroke-width="0.2" textLength="41.57" lengthAdjust="spacingAndGlyphs">-0.004671</text>
<text x="734.24" y="435" fill="#000" stroke="#000" stroke-width="0.2" textLength="14.04" lengthAdjust="spacingAndGlyphs">100</text>
<text x="732.82" y="444" fill="#000" stroke="#000" stroke-width="0.2" textLength="9.88" lengthAdjust="spacingAndGlyphs">70</text>
<text x="732.82" y="463" fill="#000" stroke="#000" stroke-width="0.2" textLength="9.98" lengthAdjust="spacingAndGlyphs">30</text>
<text x="733.95" y="471" fill="#000" stroke="#000" stroke-width="0.2" textLength="4.66" lengthAdjust="spacingAndGlyphs">0</text>
<text x="735.91" y="67" fill="#fff" stroke="#fff" stroke-width="0.2" textLength="33.13" lengthAdjust="spacingAndGlyphs">1.38644</text>
<rect x="6" y="9" width="7" height="1" fill="#000"/>
<rect x="7" y="10" width="5" height="1" fill="#000"/>
<rect x="8" y="11" width="3" height="1" fill="#000"/>
<rect x="9" y="12" width="1" height="1" fill="#000"/>
</svg>
</body></html>
